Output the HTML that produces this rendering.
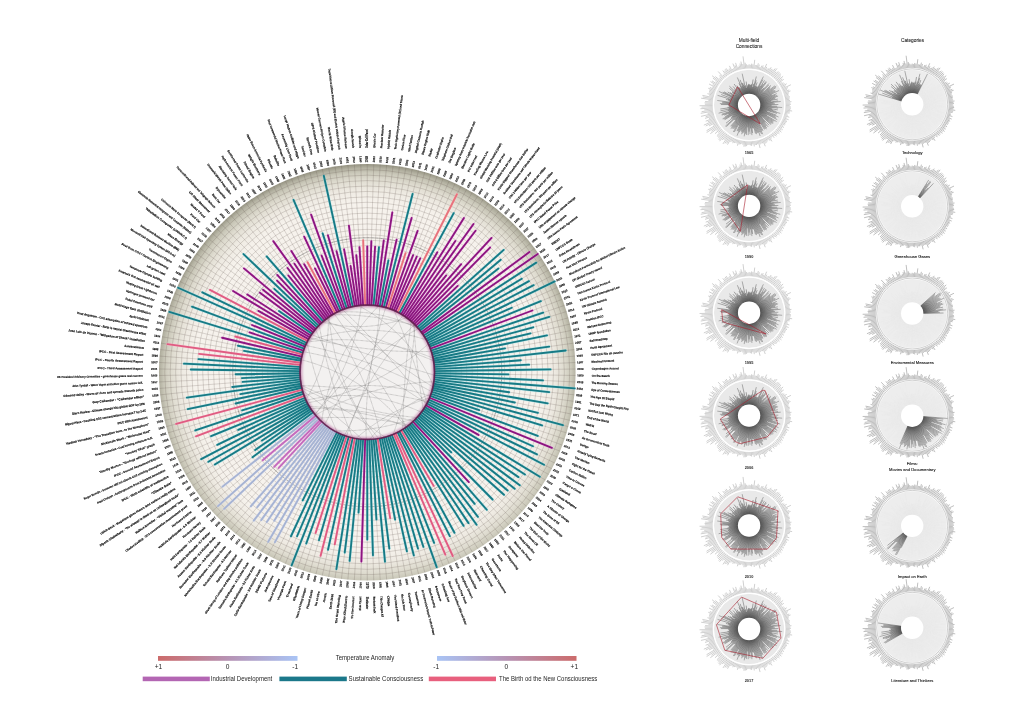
<!DOCTYPE html><html><head><meta charset="utf-8"><title>Chart</title><style>html,body{margin:0;padding:0;background:#fff}svg{display:block}text{font-family:"Liberation Sans",sans-serif}</style></head><body>
<svg width="1024" height="724" viewBox="0 0 1024 724">
<defs>
<radialGradient id="dg" gradientUnits="userSpaceOnUse" cx="367.77" cy="376.23" r="212.5">
<stop offset="0" stop-color="#f8f3ef"/>
<stop offset="0.82" stop-color="#f6f2ec"/>
<stop offset="0.877" stop-color="#eeeae2"/>
<stop offset="0.924" stop-color="#dfdcd0"/>
<stop offset="0.959" stop-color="#cac8b9"/>
<stop offset="0.98" stop-color="#b3b1a1"/>
<stop offset="0.994" stop-color="#9c9a89"/>
<stop offset="1" stop-color="#939180"/>
</radialGradient>
<linearGradient id="lg1" x1="0" x2="1" y1="0" y2="0"><stop offset="0" stop-color="#cc6b6b"/><stop offset="0.5" stop-color="#b793b4"/><stop offset="1" stop-color="#a9c4f5"/></linearGradient>
<linearGradient id="lg2" x1="0" x2="1" y1="0" y2="0"><stop offset="0" stop-color="#a9c4f5"/><stop offset="0.5" stop-color="#b793b4"/><stop offset="1" stop-color="#cc6b6b"/></linearGradient>
<radialGradient id="bg" gradientUnits="userSpaceOnUse" cx="0" cy="0" r="36"><stop offset="0.3" stop-color="#383838"/><stop offset="0.55" stop-color="#5a5a5a"/><stop offset="1" stop-color="#808080"/></radialGradient>
<filter id="bl" x="-20%" y="-20%" width="140%" height="140%"><feGaussianBlur stdDeviation="1.1"/></filter>
<filter id="bl2" x="-20%" y="-20%" width="140%" height="140%"><feGaussianBlur stdDeviation="0.35"/></filter>
<clipPath id="ic"><circle cx="367.27" cy="372.23" r="67"/></clipPath>
</defs>
<rect width="1024" height="724" fill="#fff"/>
<circle cx="367.27" cy="372.23" r="208.3" fill="url(#dg)"/>
<path d="M367.27 305.23L367.27 163.93M369.35 305.26L373.75 164.03M371.44 305.36L380.22 164.33M373.51 305.52L386.68 164.84M375.58 305.75L393.12 165.54M377.65 306.04L399.54 166.44M379.7 306.39L405.92 167.55M381.74 306.81L412.27 168.85M383.77 307.29L418.57 170.35M385.78 307.84L424.82 172.04M387.78 308.45L431.02 173.93M389.75 309.11L437.16 176M391.7 309.84L443.23 178.27M393.63 310.63L449.22 180.73M395.53 311.48L455.14 183.37M397.41 312.39L460.97 186.19M399.25 313.36L466.71 189.2M401.07 314.38L472.35 192.38M402.85 315.46L477.9 195.73M404.6 316.59L483.33 199.26M406.31 317.78L488.65 202.95M407.99 319.02L493.86 206.81M409.62 320.31L498.94 210.83M411.22 321.66L503.9 215M412.77 323.05L508.72 219.33M414.28 324.49L513.41 223.8M415.74 325.97L517.96 228.42M417.15 327.5L522.36 233.17M418.52 329.07L526.61 238.06M419.84 330.69L530.7 243.08M421.1 332.34L534.64 248.23M422.32 334.04L538.41 253.49M423.48 335.77L542.02 258.87M424.59 337.53L545.46 264.36M425.64 339.33L548.73 269.96M426.63 341.16L551.83 275.65M427.57 343.03L554.74 281.44M428.45 344.92L557.47 287.31M429.27 346.83L560.02 293.27M430.03 348.77L562.39 299.3M430.73 350.73L564.56 305.4M431.37 352.72L566.54 311.57M431.94 354.72L568.33 317.8M432.46 356.74L569.93 324.08M432.91 358.78L571.33 330.4M433.29 360.82L572.53 336.77M433.61 362.88L573.53 343.17M433.87 364.95L574.34 349.6M434.07 367.03L574.94 356.05M434.2 369.11L575.34 362.51M434.26 371.19L575.54 368.99M434.26 373.27L575.54 375.47M434.2 375.35L575.34 381.95M434.07 377.43L574.94 388.41M433.87 379.51L574.34 394.86M433.61 381.58L573.53 401.29M433.29 383.64L572.53 407.69M432.91 385.68L571.33 414.06M432.46 387.72L569.93 420.38M431.94 389.74L568.33 426.66M431.37 391.74L566.54 432.89M430.73 393.73L564.56 439.06M430.03 395.69L562.39 445.16M429.27 397.63L560.02 451.19M428.45 399.54L557.47 457.15M427.57 401.43L554.74 463.02M426.63 403.3L551.83 468.81M425.64 405.13L548.73 474.5M424.59 406.93L545.46 480.1M423.48 408.69L542.02 485.59M422.32 410.42L538.41 490.97M421.1 412.12L534.64 496.23M419.84 413.77L530.7 501.38M418.52 415.39L526.61 506.4M417.15 416.96L522.36 511.29M415.74 418.49L517.96 516.04M414.28 419.97L513.41 520.66M412.77 421.41L508.72 525.13M411.22 422.8L503.9 529.46M409.62 424.15L498.94 533.63M407.99 425.44L493.86 537.65M406.31 426.68L488.65 541.51M404.6 427.87L483.33 545.2M402.85 429L477.9 548.73M401.07 430.08L472.35 552.08M399.25 431.1L466.71 555.26M397.41 432.07L460.97 558.27M395.53 432.98L455.14 561.09M393.63 433.83L449.22 563.73M391.7 434.62L443.23 566.19M389.75 435.35L437.16 568.46M387.78 436.01L431.02 570.53M385.78 436.62L424.82 572.42M383.77 437.17L418.57 574.11M381.74 437.65L412.27 575.61M379.7 438.07L405.92 576.91M377.65 438.42L399.54 578.02M375.58 438.71L393.12 578.92M373.51 438.94L386.68 579.62M371.44 439.1L380.22 580.13M369.35 439.2L373.75 580.43M367.27 439.23L367.27 580.53M365.19 439.2L360.79 580.43M363.1 439.1L354.32 580.13M361.03 438.94L347.86 579.62M358.96 438.71L341.42 578.92M356.89 438.42L335 578.02M354.84 438.07L328.62 576.91M352.8 437.65L322.27 575.61M350.77 437.17L315.97 574.11M348.76 436.62L309.72 572.42M346.76 436.01L303.52 570.53M344.79 435.35L297.38 568.46M342.84 434.62L291.31 566.19M340.91 433.83L285.32 563.73M339.01 432.98L279.4 561.09M337.13 432.07L273.57 558.27M335.29 431.1L267.83 555.26M333.47 430.08L262.19 552.08M331.69 429L256.64 548.73M329.94 427.87L251.21 545.2M328.23 426.68L245.89 541.51M326.55 425.44L240.68 537.65M324.92 424.15L235.6 533.63M323.32 422.8L230.64 529.46M321.77 421.41L225.82 525.13M320.26 419.97L221.13 520.66M318.8 418.49L216.58 516.04M317.39 416.96L212.18 511.29M316.02 415.39L207.93 506.4M314.7 413.77L203.84 501.38M313.44 412.12L199.9 496.23M312.22 410.42L196.13 490.97M311.06 408.69L192.52 485.59M309.95 406.93L189.08 480.1M308.9 405.13L185.81 474.5M307.91 403.3L182.71 468.81M306.97 401.43L179.8 463.02M306.09 399.54L177.07 457.15M305.27 397.63L174.52 451.19M304.51 395.69L172.15 445.16M303.81 393.73L169.98 439.06M303.17 391.74L168 432.89M302.6 389.74L166.21 426.66M302.08 387.72L164.61 420.38M301.63 385.68L163.21 414.06M301.25 383.64L162.01 407.69M300.93 381.58L161.01 401.29M300.67 379.51L160.2 394.86M300.47 377.43L159.6 388.41M300.34 375.35L159.2 381.95M300.28 373.27L159 375.47M300.28 371.19L159 368.99M300.34 369.11L159.2 362.51M300.47 367.03L159.6 356.05M300.67 364.95L160.2 349.6M300.93 362.88L161.01 343.17M301.25 360.82L162.01 336.77M301.63 358.78L163.21 330.4M302.08 356.74L164.61 324.08M302.6 354.72L166.21 317.8M303.17 352.72L168 311.57M303.81 350.73L169.98 305.4M304.51 348.77L172.15 299.3M305.27 346.83L174.52 293.27M306.09 344.92L177.07 287.31M306.97 343.03L179.8 281.44M307.91 341.16L182.71 275.65M308.9 339.33L185.81 269.96M309.95 337.53L189.08 264.36M311.06 335.77L192.52 258.87M312.22 334.04L196.13 253.49M313.44 332.34L199.9 248.23M314.7 330.69L203.84 243.08M316.02 329.07L207.93 238.06M317.39 327.5L212.18 233.17M318.8 325.97L216.58 228.42M320.26 324.49L221.13 223.8M321.77 323.05L225.82 219.33M323.32 321.66L230.64 215M324.92 320.31L235.6 210.83M326.55 319.02L240.68 206.81M328.23 317.78L245.89 202.95M329.94 316.59L251.21 199.26M331.69 315.46L256.64 195.73M333.47 314.38L262.19 192.38M335.29 313.36L267.83 189.2M337.13 312.39L273.57 186.19M339.01 311.48L279.4 183.37M340.91 310.63L285.32 180.73M342.84 309.84L291.31 178.27M344.79 309.11L297.38 176M346.76 308.45L303.52 173.93M348.76 307.84L309.72 172.04M350.77 307.29L315.97 170.35M352.8 306.81L322.27 168.85M354.84 306.39L328.62 167.55M356.89 306.04L335 166.44M358.96 305.75L341.42 165.54M361.03 305.52L347.86 164.84M363.1 305.36L354.32 164.33M365.19 305.26L360.79 164.03" stroke="#6a5d55" stroke-width="0.4" fill="none" opacity="0.56"/>
<g stroke="#6a5d55" stroke-width="0.4" fill="none" opacity="0.56"><circle cx="367.27" cy="372.23" r="72.42"/><circle cx="367.27" cy="372.23" r="77.84"/><circle cx="367.27" cy="372.23" r="83.26"/><circle cx="367.27" cy="372.23" r="88.68"/><circle cx="367.27" cy="372.23" r="94.1"/><circle cx="367.27" cy="372.23" r="99.52"/><circle cx="367.27" cy="372.23" r="104.94"/><circle cx="367.27" cy="372.23" r="110.36"/><circle cx="367.27" cy="372.23" r="115.78"/><circle cx="367.27" cy="372.23" r="121.2"/><circle cx="367.27" cy="372.23" r="126.62"/><circle cx="367.27" cy="372.23" r="132.04"/><circle cx="367.27" cy="372.23" r="137.46"/><circle cx="367.27" cy="372.23" r="142.88"/><circle cx="367.27" cy="372.23" r="148.3"/><circle cx="367.27" cy="372.23" r="153.72"/><circle cx="367.27" cy="372.23" r="159.14"/><circle cx="367.27" cy="372.23" r="164.56"/><circle cx="367.27" cy="372.23" r="169.98"/><circle cx="367.27" cy="372.23" r="175.4"/><circle cx="367.27" cy="372.23" r="180.82"/><circle cx="367.27" cy="372.23" r="186.24"/><circle cx="367.27" cy="372.23" r="191.66"/><circle cx="367.27" cy="372.23" r="197.08"/><circle cx="367.27" cy="372.23" r="202.5"/></g>
<circle cx="367.27" cy="372.23" r="134.5" stroke="#222" stroke-width="0.5" stroke-dasharray="0.9 0.4" fill="none"/>
<path d="M367.27 306.23L367.27 246.33M369.32 306.26L371.34 241.29M371.37 306.36L375.1 246.57M375.46 306.74L383.76 240.36M377.49 307.03L392.33 212.38M381.53 307.79L396.61 239.64M385.51 308.8L411.62 217.98M389.41 310.06L417.6 230.92M391.34 310.77L413.11 255.19M393.24 311.55L416.72 256.67M395.11 312.39L420.21 258.44M400.57 315.24L437.34 252.3M402.32 316.31L463.93 218.02M404.04 317.42L455.36 240.95M405.73 318.59L473.5 224.08M407.38 319.82L475.57 230.71M408.99 321.09L446.22 275.45M410.56 322.41L461.2 264.14M412.09 323.78L491.54 237.9M413.57 325.2L490.05 247.53M415.01 326.66L457.7 285.93M420.3 332.94L529.42 252.1M421.5 334.61L537.76 253.95M429.09 349.12L532.41 310.5M428.34 397.25L551.88 447.86M424.77 404.64L478.52 434.93M412.09 420.68L468.86 482.05M365.22 438.2L361.38 561.54M303.06 356.97L222.11 337.74M304.76 351.06L249.54 332.35M306.2 347.21L251.97 325M309.77 339.82L258.37 310.86M310.81 338.05L233.05 290.98M311.9 336.31L247.3 294.41M314.24 332.94L259.92 292.7M315.49 331.31L263 289.83M316.78 329.72L243.96 268.4M320.97 325.2L277.05 280.59M322.45 323.78L277.22 274.89M325.55 321.09L288.38 275.53M327.16 319.82L287.54 268.04M328.81 318.59L273.27 241.15M330.5 317.42L294.45 263.7M332.22 316.31L291.32 251.06M333.97 315.24L304.21 264.3M337.58 313.28L315 268.45M339.43 312.39L304.21 236.68M343.2 310.77L321.62 255.65M345.13 310.06L311.14 214.63M349.03 308.8L327.9 235.28M351.02 308.26L336.53 251.27M355.02 307.38L344.06 249.3M357.05 307.03L350.62 266.03M359.08 306.74L348.95 225.77M361.12 306.52L356.31 255.14M363.17 306.36L359.47 247.07" stroke="#f3a6ea" stroke-width="2.7" stroke-linecap="round" fill="none" opacity="0.55"/>
<path d="M373.42 306.52L378.96 247.28M379.52 307.38L388.39 260.41M383.52 308.26L412.59 193.9M398.78 314.24L453.72 213.1M416.41 328.17L503.67 249.93M417.76 329.72L500.75 259.83M419.05 331.31L498.45 268.56M422.64 336.31L536.24 262.63M423.73 338.05L521.77 278.71M424.77 339.82L528.96 281.1M425.75 341.63L533.66 285.15M426.67 343.46L554.74 281.44M427.54 345.32L511.73 307.73M428.34 347.21L540.87 301.11M429.78 351.06L543.15 312.65M430.41 353.01L549.23 316.84M430.98 354.98L533.2 327.31M431.48 356.97L530.52 333.44M431.93 358.98L547.03 335.38M432.31 360.99L505.03 348.43M432.62 363.02L549.17 346.6M432.88 365.06L565.69 350.54M433.07 367.1L520.8 360.27M433.2 369.15L529.09 364.67M433.26 371.2L550.55 369.38M433.26 373.26L508.45 374.43M433.2 375.31L542.98 380.43M433.07 377.36L574.74 388.4M432.88 379.4L549.19 392.11M432.62 381.44L509.17 392.22M432.31 383.47L547.7 403.4M431.93 385.48L514.8 402.47M431.48 387.49L537.92 412.78M430.98 389.48L562.93 425.2M430.41 391.45L542.05 425.43M429.78 393.4L479.13 410.12M429.09 395.34L537.75 435.95M427.54 399.14L533 446.22M426.67 401L537.01 454.44M425.75 402.83L544.03 464.73M423.73 406.41L539.82 476.68M422.64 408.15L524.99 474.54M421.5 409.85L518.45 477.12M420.3 411.52L519.77 485.22M419.05 413.15L514.7 488.73M417.76 414.74L507.64 490.42M416.41 416.29L503.97 494.8M415.01 417.8L451.26 452.39M413.57 419.26L492.57 499.5M410.56 422.05L486.78 509.76M408.99 423.37L474.67 503.88M407.38 424.64L477.94 516.84M405.73 425.87L476.59 524.68M404.04 427.04L468.51 523.11M402.32 428.15L463.56 525.85M398.78 430.22L454.49 532.77M396.96 431.18L449.81 536.12M391.34 433.69L434.11 542.91M389.41 434.4L436.69 567.14M387.47 435.06L423.43 546.92M385.51 435.66L417.97 548.59M383.52 436.2L413.82 555.41M381.53 436.67L406.89 551.3M379.52 437.08L395.08 519.53M375.46 437.72L389.32 548.56M373.42 437.94L384.99 561.6M371.37 438.1L376.44 519.44M369.32 438.2L372.97 555.34M367.27 438.23L367.27 539.53M363.17 438.1L358.53 512.56M361.12 437.94L349.62 560.81M359.08 437.72L344.72 552.53M357.05 437.43L336.4 569.12M353.01 436.67L328 549.74M349.03 435.66L318.97 540.23M345.13 434.4L306.27 543.49M343.2 433.69L291.64 565.35M341.3 432.91L297.08 536.24M339.43 432.07L290.96 536.25M337.58 431.18L302.72 500.39M314.24 411.52L252.53 457.24M313.04 409.85L255.12 450.04M311.9 408.15L261.98 440.53M310.81 406.41L214.82 464.51M309.77 404.64L208.37 461.79M308.79 402.83L201.14 459.17M307.87 401L217.24 444.89M307 399.14L238.25 429.84M306.2 397.25L211.07 436.22M304.76 393.4L195.27 430.49M304.13 391.45L242.14 410.32M303.06 387.49L235.64 403.51M302.61 385.48L187.7 409.04M302.23 383.47L240.35 394.16M301.92 381.44L186.85 397.65M301.66 379.4L232.27 386.98M301.47 377.36L242.65 381.94M301.34 375.31L241.91 378.08M301.28 373.26L235.69 374.28M301.28 371.2L190.79 369.49M301.34 369.15L183.97 363.67M301.47 367.1L198.48 359.08M302.23 360.99L244 350.93M302.61 358.98L237.96 345.72M304.13 353.01L169.34 311.98M305.45 349.12L192.01 306.72M307 345.32L178.07 287.76M307.87 343.46L202.3 292.33M313.04 334.61L278.95 310.95M318.13 328.17L274.28 288.85M319.53 326.66L243.49 254.1M323.98 322.41L266.65 256.44M341.3 311.55L293.54 199.94M347.07 309.4L322.62 233.33M353.01 307.79L323.81 175.78" stroke="#8fdde6" stroke-width="2.7" stroke-linecap="round" fill="none" opacity="0.55"/>
<path d="M387.47 309.4L405.56 253.13M396.96 313.28L456.92 194.23M335.76 314.24L307.55 262.31M365.22 306.26L363.16 240.29" stroke="#ffcaca" stroke-width="2.7" stroke-linecap="round" fill="none" opacity="0.55"/>
<path d="M400.57 429.22L433.66 485.86M395.11 432.07L452.78 556.01M393.24 432.91L445.33 554.63M377.49 437.43L390.15 518.15M355.02 437.08L334.78 544.29M351.02 436.2L320.62 555.8M347.07 435.06L315.61 532.93M305.45 395.34L195.95 436.27M303.56 389.48L176.15 423.97M301.66 365.06L199.07 353.85M301.92 363.02L167.44 344.08M303.56 354.98L235.32 336.51M308.79 341.63L209.91 289.88" stroke="#ffc3d3" stroke-width="2.7" stroke-linecap="round" fill="none" opacity="0.55"/>
<path d="M335.76 430.22L274.94 542.17M333.97 429.22L268.19 541.81M332.22 428.15L274.22 520.68M330.5 427.04L266.81 521.95M328.81 425.87L261.21 520.13M327.16 424.64L253.75 520.58M325.55 423.37L257.15 507.21M323.98 422.05L250.78 506.29M319.53 417.8L224.11 508.86M318.13 416.29L217.99 506.08M315.49 413.15L222.51 486.62" stroke="#d8dff2" stroke-width="2.7" stroke-linecap="round" fill="none" opacity="0.55"/>
<path d="M322.45 420.68L278.72 467.95M320.97 419.26L274.17 466.79M316.78 414.74L262.7 460.28" stroke="#f0c4ec" stroke-width="2.7" stroke-linecap="round" fill="none" opacity="0.55"/>
<path d="M367.27 306.23L367.27 246.33M369.32 306.26L371.34 241.29M371.37 306.36L375.1 246.57M375.46 306.74L383.76 240.36M377.49 307.03L392.33 212.38M381.53 307.79L396.61 239.64M385.51 308.8L411.62 217.98M389.41 310.06L417.6 230.92M391.34 310.77L413.11 255.19M393.24 311.55L416.72 256.67M395.11 312.39L420.21 258.44M400.57 315.24L437.34 252.3M402.32 316.31L463.93 218.02M404.04 317.42L455.36 240.95M405.73 318.59L473.5 224.08M407.38 319.82L475.57 230.71M408.99 321.09L446.22 275.45M410.56 322.41L461.2 264.14M412.09 323.78L491.54 237.9M413.57 325.2L490.05 247.53M415.01 326.66L457.7 285.93M420.3 332.94L529.42 252.1M421.5 334.61L537.76 253.95M429.09 349.12L532.41 310.5M428.34 397.25L551.88 447.86M424.77 404.64L478.52 434.93M412.09 420.68L468.86 482.05M365.22 438.2L361.38 561.54M303.06 356.97L222.11 337.74M304.76 351.06L249.54 332.35M306.2 347.21L251.97 325M309.77 339.82L258.37 310.86M310.81 338.05L233.05 290.98M311.9 336.31L247.3 294.41M314.24 332.94L259.92 292.7M315.49 331.31L263 289.83M316.78 329.72L243.96 268.4M320.97 325.2L277.05 280.59M322.45 323.78L277.22 274.89M325.55 321.09L288.38 275.53M327.16 319.82L287.54 268.04M328.81 318.59L273.27 241.15M330.5 317.42L294.45 263.7M332.22 316.31L291.32 251.06M333.97 315.24L304.21 264.3M337.58 313.28L315 268.45M339.43 312.39L304.21 236.68M343.2 310.77L321.62 255.65M345.13 310.06L311.14 214.63M349.03 308.8L327.9 235.28M351.02 308.26L336.53 251.27M355.02 307.38L344.06 249.3M357.05 307.03L350.62 266.03M359.08 306.74L348.95 225.77M361.12 306.52L356.31 255.14M363.17 306.36L359.47 247.07" stroke="#8c1680" stroke-width="1.85" stroke-linecap="round" fill="none"/>
<path d="M373.42 306.52L378.96 247.28M379.52 307.38L388.39 260.41M383.52 308.26L412.59 193.9M398.78 314.24L453.72 213.1M416.41 328.17L503.67 249.93M417.76 329.72L500.75 259.83M419.05 331.31L498.45 268.56M422.64 336.31L536.24 262.63M423.73 338.05L521.77 278.71M424.77 339.82L528.96 281.1M425.75 341.63L533.66 285.15M426.67 343.46L554.74 281.44M427.54 345.32L511.73 307.73M428.34 347.21L540.87 301.11M429.78 351.06L543.15 312.65M430.41 353.01L549.23 316.84M430.98 354.98L533.2 327.31M431.48 356.97L530.52 333.44M431.93 358.98L547.03 335.38M432.31 360.99L505.03 348.43M432.62 363.02L549.17 346.6M432.88 365.06L565.69 350.54M433.07 367.1L520.8 360.27M433.2 369.15L529.09 364.67M433.26 371.2L550.55 369.38M433.26 373.26L508.45 374.43M433.2 375.31L542.98 380.43M433.07 377.36L574.74 388.4M432.88 379.4L549.19 392.11M432.62 381.44L509.17 392.22M432.31 383.47L547.7 403.4M431.93 385.48L514.8 402.47M431.48 387.49L537.92 412.78M430.98 389.48L562.93 425.2M430.41 391.45L542.05 425.43M429.78 393.4L479.13 410.12M429.09 395.34L537.75 435.95M427.54 399.14L533 446.22M426.67 401L537.01 454.44M425.75 402.83L544.03 464.73M423.73 406.41L539.82 476.68M422.64 408.15L524.99 474.54M421.5 409.85L518.45 477.12M420.3 411.52L519.77 485.22M419.05 413.15L514.7 488.73M417.76 414.74L507.64 490.42M416.41 416.29L503.97 494.8M415.01 417.8L451.26 452.39M413.57 419.26L492.57 499.5M410.56 422.05L486.78 509.76M408.99 423.37L474.67 503.88M407.38 424.64L477.94 516.84M405.73 425.87L476.59 524.68M404.04 427.04L468.51 523.11M402.32 428.15L463.56 525.85M398.78 430.22L454.49 532.77M396.96 431.18L449.81 536.12M391.34 433.69L434.11 542.91M389.41 434.4L436.69 567.14M387.47 435.06L423.43 546.92M385.51 435.66L417.97 548.59M383.52 436.2L413.82 555.41M381.53 436.67L406.89 551.3M379.52 437.08L395.08 519.53M375.46 437.72L389.32 548.56M373.42 437.94L384.99 561.6M371.37 438.1L376.44 519.44M369.32 438.2L372.97 555.34M367.27 438.23L367.27 539.53M363.17 438.1L358.53 512.56M361.12 437.94L349.62 560.81M359.08 437.72L344.72 552.53M357.05 437.43L336.4 569.12M353.01 436.67L328 549.74M349.03 435.66L318.97 540.23M345.13 434.4L306.27 543.49M343.2 433.69L291.64 565.35M341.3 432.91L297.08 536.24M339.43 432.07L290.96 536.25M337.58 431.18L302.72 500.39M314.24 411.52L252.53 457.24M313.04 409.85L255.12 450.04M311.9 408.15L261.98 440.53M310.81 406.41L214.82 464.51M309.77 404.64L208.37 461.79M308.79 402.83L201.14 459.17M307.87 401L217.24 444.89M307 399.14L238.25 429.84M306.2 397.25L211.07 436.22M304.76 393.4L195.27 430.49M304.13 391.45L242.14 410.32M303.06 387.49L235.64 403.51M302.61 385.48L187.7 409.04M302.23 383.47L240.35 394.16M301.92 381.44L186.85 397.65M301.66 379.4L232.27 386.98M301.47 377.36L242.65 381.94M301.34 375.31L241.91 378.08M301.28 373.26L235.69 374.28M301.28 371.2L190.79 369.49M301.34 369.15L183.97 363.67M301.47 367.1L198.48 359.08M302.23 360.99L244 350.93M302.61 358.98L237.96 345.72M304.13 353.01L169.34 311.98M305.45 349.12L192.01 306.72M307 345.32L178.07 287.76M307.87 343.46L202.3 292.33M313.04 334.61L278.95 310.95M318.13 328.17L274.28 288.85M319.53 326.66L243.49 254.1M323.98 322.41L266.65 256.44M341.3 311.55L293.54 199.94M347.07 309.4L322.62 233.33M353.01 307.79L323.81 175.78" stroke="#177a85" stroke-width="1.85" stroke-linecap="round" fill="none"/>
<path d="M387.47 309.4L405.56 253.13M396.96 313.28L456.92 194.23M335.76 314.24L307.55 262.31M365.22 306.26L363.16 240.29" stroke="#e8727c" stroke-width="1.85" stroke-linecap="round" fill="none"/>
<path d="M400.57 429.22L433.66 485.86M395.11 432.07L452.78 556.01M393.24 432.91L445.33 554.63M377.49 437.43L390.15 518.15M355.02 437.08L334.78 544.29M351.02 436.2L320.62 555.8M347.07 435.06L315.61 532.93M305.45 395.34L195.95 436.27M303.56 389.48L176.15 423.97M301.66 365.06L199.07 353.85M301.92 363.02L167.44 344.08M303.56 354.98L235.32 336.51M308.79 341.63L209.91 289.88" stroke="#e05c82" stroke-width="1.85" stroke-linecap="round" fill="none"/>
<path d="M335.76 430.22L274.94 542.17M333.97 429.22L268.19 541.81M332.22 428.15L274.22 520.68M330.5 427.04L266.81 521.95M328.81 425.87L261.21 520.13M327.16 424.64L253.75 520.58M325.55 423.37L257.15 507.21M323.98 422.05L250.78 506.29M319.53 417.8L224.11 508.86M318.13 416.29L217.99 506.08M315.49 413.15L222.51 486.62" stroke="#a6b3d3" stroke-width="1.85" stroke-linecap="round" fill="none"/>
<path d="M322.45 420.68L278.72 467.95M320.97 419.26L274.17 466.79M316.78 414.74L262.7 460.28" stroke="#c46bbd" stroke-width="1.85" stroke-linecap="round" fill="none"/>
<circle cx="367.27" cy="372.23" r="68" fill="#7d2a5e" opacity="0.55" filter="url(#bl2)"/>
<circle cx="367.27" cy="372.23" r="66.7" fill="#f3f1f0"/>
<g clip-path="url(#ic)">
<circle cx="367.27" cy="372.23" r="67" fill="none" stroke="#b05a95" stroke-width="4" opacity="0.55" filter="url(#bl)"/>
<path d="M337.29 432.15Q317.33 389.1 307.09 342.78M427.45 401.68Q365.31 387.54 301.61 385.56M429.87 396.11Q367.26 375.08 304.55 395.79M306.01 399.36Q329.21 361.82 328.34 317.7M307.66 402.83Q375.84 389.84 428.13 344.21M378.48 438.29Q334.32 385.62 329.22 317.08M307.98 341.03Q366.73 320.2 425.9 339.81M431.42 391.56Q372.13 358.99 305.86 345.44M408.58 424.98Q363.95 415.28 318.36 418.02M394.31 310.93Q413.24 356.05 426.75 403.08M324.21 320.9Q379.41 338.86 433.25 360.56M429.12 397.98Q388.37 410.42 356.15 438.3M338.9 311.54Q380.76 355.41 432.68 386.73M309.72 337.92Q369.36 353.39 430.95 351.39M385.71 307.82Q363.89 371.73 366.28 439.22M307.46 342.03Q372.27 333.11 432.75 358.03M358.64 305.79Q409.53 332.51 433.05 384.96M416.66 417.5Q356.13 412.05 301.56 385.3M405.97 426.92Q364.84 376.01 301.44 359.78M334.34 313.88Q373.25 368.42 406.23 426.74M414.79 325Q411.74 380.97 393.37 433.94M311.71 334.79Q372.32 356.88 434.21 375.12M403.16 315.65Q358.24 364.18 315.17 414.35M332.86 314.74Q375.05 314.29 415.62 325.85M326.92 318.75Q367.7 372.04 380.88 437.83M352.82 437.65Q329.24 383.6 319.29 325.47M433.6 381.7Q370.66 384.24 315.67 414.97M416.94 417.2Q377.17 431.94 334.77 430.82M413.34 420.88Q362.05 409.55 309.62 406.37M413.57 323.8Q416.78 366.7 423.11 409.26M303.48 351.75Q370.92 363.6 426.41 403.71M411.26 321.69Q403.7 375.13 402.7 429.1M324.96 424.18Q355.86 361.08 418.22 328.72M406.34 426.66Q360.37 408.32 310.88 408.41M374.27 438.86Q341.4 386.15 315.53 329.66M361.91 439.02Q333.81 413.19 302.9 390.8M321.63 421.29Q331.24 354.46 378.4 306.16M342.8 309.86Q388.53 353.35 426.31 403.91M337.3 312.3Q380.18 308.91 418.3 328.82M379.81 306.41Q376.01 374.62 344.58 435.27M315.01 414.16Q353.66 366.43 361.28 305.5M322.74 322.17Q365.22 333 406.33 317.79M384.44 436.99Q346.13 407.85 302.2 388.18M430.65 393.96Q394.62 408.95 369.94 439.18M421.11 412.11Q365.79 386.58 306.41 400.25M414.45 324.66Q366.45 371.73 346.62 435.97" stroke="#4a4a4a" stroke-width="0.42" stroke-dasharray="0.7 0.55" fill="none" opacity="0.8"/>
</g>
<circle cx="367.27" cy="372.23" r="67.2" fill="none" stroke="#5e1d4c" stroke-width="1.7" opacity="0.8" filter="url(#bl2)"/>
<g font-size="2.85" font-weight="700" fill="#111" stroke="#111" stroke-width="0.14" opacity="0.99"><text transform="translate(367.27 162.23) rotate(-90)" y="1.03" textLength="6.3" lengthAdjust="spacingAndGlyphs">1988</text><text transform="translate(373.8 162.33) rotate(-88.22)" y="1.03" textLength="6.3" lengthAdjust="spacingAndGlyphs">2011</text><text transform="translate(380.33 162.64) rotate(-86.44)" y="1.03" textLength="6.3" lengthAdjust="spacingAndGlyphs">2010</text><text transform="translate(386.84 163.14) rotate(-84.65)" y="1.03" textLength="6.3" lengthAdjust="spacingAndGlyphs">1965</text><text transform="translate(393.33 163.85) rotate(-82.87)" y="1.03" textLength="6.3" lengthAdjust="spacingAndGlyphs">2001</text><text transform="translate(399.8 164.76) rotate(-81.09)" y="1.03" textLength="6.3" lengthAdjust="spacingAndGlyphs">2012</text><text transform="translate(406.24 165.88) rotate(-79.31)" y="1.03" textLength="6.3" lengthAdjust="spacingAndGlyphs">2008</text><text transform="translate(412.63 167.19) rotate(-77.52)" y="1.03" textLength="6.3" lengthAdjust="spacingAndGlyphs">2013</text><text transform="translate(418.99 168.7) rotate(-75.74)" y="1.03" textLength="6.3" lengthAdjust="spacingAndGlyphs">2011</text><text transform="translate(425.29 170.41) rotate(-73.96)" y="1.03" textLength="6.3" lengthAdjust="spacingAndGlyphs">1938</text><text transform="translate(431.54 172.31) rotate(-72.18)" y="1.03" textLength="6.3" lengthAdjust="spacingAndGlyphs">2012</text><text transform="translate(437.73 174.4) rotate(-70.4)" y="1.03" textLength="6.3" lengthAdjust="spacingAndGlyphs">1859</text><text transform="translate(443.85 176.69) rotate(-68.61)" y="1.03" textLength="6.3" lengthAdjust="spacingAndGlyphs">2008</text><text transform="translate(449.89 179.17) rotate(-66.83)" y="1.03" textLength="6.3" lengthAdjust="spacingAndGlyphs">1990</text><text transform="translate(455.86 181.83) rotate(-65.05)" y="1.03" textLength="6.3" lengthAdjust="spacingAndGlyphs">2010</text><text transform="translate(461.73 184.68) rotate(-63.27)" y="1.03" textLength="6.3" lengthAdjust="spacingAndGlyphs">1988</text><text transform="translate(467.52 187.7) rotate(-61.49)" y="1.03" textLength="6.3" lengthAdjust="spacingAndGlyphs">1979</text><text transform="translate(473.21 190.91) rotate(-59.7)" y="1.03" textLength="6.3" lengthAdjust="spacingAndGlyphs">2015</text><text transform="translate(478.8 194.29) rotate(-57.92)" y="1.03" textLength="6.3" lengthAdjust="spacingAndGlyphs">2008</text><text transform="translate(484.28 197.85) rotate(-56.14)" y="1.03" textLength="6.3" lengthAdjust="spacingAndGlyphs">2010</text><text transform="translate(489.65 201.57) rotate(-54.36)" y="1.03" textLength="6.3" lengthAdjust="spacingAndGlyphs">2010</text><text transform="translate(494.89 205.46) rotate(-52.57)" y="1.03" textLength="6.3" lengthAdjust="spacingAndGlyphs">2008</text><text transform="translate(500.02 209.51) rotate(-50.79)" y="1.03" textLength="6.3" lengthAdjust="spacingAndGlyphs">2004</text><text transform="translate(505.02 213.72) rotate(-49.01)" y="1.03" textLength="6.3" lengthAdjust="spacingAndGlyphs">2013</text><text transform="translate(509.88 218.08) rotate(-47.23)" y="1.03" textLength="6.3" lengthAdjust="spacingAndGlyphs">1965</text><text transform="translate(514.6 222.59) rotate(-45.45)" y="1.03" textLength="6.3" lengthAdjust="spacingAndGlyphs">1988</text><text transform="translate(519.19 227.24) rotate(-43.66)" y="1.03" textLength="6.3" lengthAdjust="spacingAndGlyphs">2007</text><text transform="translate(523.62 232.04) rotate(-41.88)" y="1.03" textLength="6.3" lengthAdjust="spacingAndGlyphs">2007</text><text transform="translate(527.91 236.97) rotate(-40.1)" y="1.03" textLength="6.3" lengthAdjust="spacingAndGlyphs">2008</text><text transform="translate(532.03 242.03) rotate(-38.32)" y="1.03" textLength="6.3" lengthAdjust="spacingAndGlyphs">1988</text><text transform="translate(536 247.22) rotate(-36.53)" y="1.03" textLength="6.3" lengthAdjust="spacingAndGlyphs">2017</text><text transform="translate(539.81 252.52) rotate(-34.75)" y="1.03" textLength="6.3" lengthAdjust="spacingAndGlyphs">2016</text><text transform="translate(543.45 257.95) rotate(-32.97)" y="1.03" textLength="6.3" lengthAdjust="spacingAndGlyphs">2017</text><text transform="translate(546.92 263.48) rotate(-31.19)" y="1.03" textLength="6.3" lengthAdjust="spacingAndGlyphs">2012</text><text transform="translate(550.21 269.12) rotate(-29.41)" y="1.03" textLength="6.3" lengthAdjust="spacingAndGlyphs">2015</text><text transform="translate(553.33 274.86) rotate(-27.62)" y="1.03" textLength="6.3" lengthAdjust="spacingAndGlyphs">2009</text><text transform="translate(556.27 280.69) rotate(-25.84)" y="1.03" textLength="6.3" lengthAdjust="spacingAndGlyphs">2016</text><text transform="translate(559.03 286.62) rotate(-24.06)" y="1.03" textLength="6.3" lengthAdjust="spacingAndGlyphs">1988</text><text transform="translate(561.6 292.62) rotate(-22.28)" y="1.03" textLength="6.3" lengthAdjust="spacingAndGlyphs">2010</text><text transform="translate(563.98 298.7) rotate(-20.5)" y="1.03" textLength="6.3" lengthAdjust="spacingAndGlyphs">2001</text><text transform="translate(566.17 304.86) rotate(-18.71)" y="1.03" textLength="6.3" lengthAdjust="spacingAndGlyphs">2005</text><text transform="translate(568.17 311.07) rotate(-16.93)" y="1.03" textLength="6.3" lengthAdjust="spacingAndGlyphs">2014</text><text transform="translate(569.97 317.35) rotate(-15.15)" y="1.03" textLength="6.3" lengthAdjust="spacingAndGlyphs">1997</text><text transform="translate(571.58 323.68) rotate(-13.37)" y="1.03" textLength="6.3" lengthAdjust="spacingAndGlyphs">1988</text><text transform="translate(572.99 330.06) rotate(-11.58)" y="1.03" textLength="6.3" lengthAdjust="spacingAndGlyphs">2013</text><text transform="translate(574.2 336.48) rotate(-9.8)" y="1.03" textLength="6.3" lengthAdjust="spacingAndGlyphs">1972</text><text transform="translate(575.22 342.93) rotate(-8.02)" y="1.03" textLength="6.3" lengthAdjust="spacingAndGlyphs">2007</text><text transform="translate(576.03 349.41) rotate(-6.24)" y="1.03" textLength="6.3" lengthAdjust="spacingAndGlyphs">2015</text><text transform="translate(576.64 355.92) rotate(-4.46)" y="1.03" textLength="6.3" lengthAdjust="spacingAndGlyphs">1988</text><text transform="translate(577.04 362.44) rotate(-2.67)" y="1.03" textLength="6.3" lengthAdjust="spacingAndGlyphs">1987</text><text transform="translate(577.24 368.96) rotate(-0.89)" y="1.03" textLength="6.3" lengthAdjust="spacingAndGlyphs">2009</text><text transform="translate(577.24 375.5) rotate(0.89)" y="1.03" textLength="6.3" lengthAdjust="spacingAndGlyphs">1959</text><text transform="translate(577.04 382.02) rotate(2.67)" y="1.03" textLength="6.3" lengthAdjust="spacingAndGlyphs">2008</text><text transform="translate(576.64 388.54) rotate(4.46)" y="1.03" textLength="6.3" lengthAdjust="spacingAndGlyphs">2016</text><text transform="translate(576.03 395.05) rotate(6.24)" y="1.03" textLength="6.3" lengthAdjust="spacingAndGlyphs">2009</text><text transform="translate(575.22 401.53) rotate(8.02)" y="1.03" textLength="6.3" lengthAdjust="spacingAndGlyphs">1961</text><text transform="translate(574.2 407.98) rotate(9.8)" y="1.03" textLength="6.3" lengthAdjust="spacingAndGlyphs">2009</text><text transform="translate(572.99 414.4) rotate(11.58)" y="1.03" textLength="6.3" lengthAdjust="spacingAndGlyphs">1971</text><text transform="translate(571.58 420.78) rotate(13.37)" y="1.03" textLength="6.3" lengthAdjust="spacingAndGlyphs">2008</text><text transform="translate(569.97 427.11) rotate(15.15)" y="1.03" textLength="6.3" lengthAdjust="spacingAndGlyphs">2009</text><text transform="translate(568.17 433.39) rotate(16.93)" y="1.03" textLength="6.3" lengthAdjust="spacingAndGlyphs">2006</text><text transform="translate(566.17 439.6) rotate(18.71)" y="1.03" textLength="6.3" lengthAdjust="spacingAndGlyphs">1970</text><text transform="translate(563.98 445.76) rotate(20.5)" y="1.03" textLength="6.3" lengthAdjust="spacingAndGlyphs">2013</text><text transform="translate(561.6 451.84) rotate(22.28)" y="1.03" textLength="6.3" lengthAdjust="spacingAndGlyphs">2015</text><text transform="translate(559.03 457.84) rotate(24.06)" y="1.03" textLength="6.3" lengthAdjust="spacingAndGlyphs">2008</text><text transform="translate(556.27 463.77) rotate(25.84)" y="1.03" textLength="6.3" lengthAdjust="spacingAndGlyphs">2010</text><text transform="translate(553.33 469.6) rotate(27.62)" y="1.03" textLength="6.3" lengthAdjust="spacingAndGlyphs">2015</text><text transform="translate(550.21 475.34) rotate(29.41)" y="1.03" textLength="6.3" lengthAdjust="spacingAndGlyphs">2006</text><text transform="translate(546.92 480.98) rotate(31.19)" y="1.03" textLength="6.3" lengthAdjust="spacingAndGlyphs">2013</text><text transform="translate(543.45 486.51) rotate(32.97)" y="1.03" textLength="6.3" lengthAdjust="spacingAndGlyphs">1965</text><text transform="translate(539.81 491.94) rotate(34.75)" y="1.03" textLength="6.3" lengthAdjust="spacingAndGlyphs">2009</text><text transform="translate(536 497.24) rotate(36.53)" y="1.03" textLength="6.3" lengthAdjust="spacingAndGlyphs">2004</text><text transform="translate(532.03 502.43) rotate(38.32)" y="1.03" textLength="6.3" lengthAdjust="spacingAndGlyphs">2016</text><text transform="translate(527.91 507.49) rotate(40.1)" y="1.03" textLength="6.3" lengthAdjust="spacingAndGlyphs">1859</text><text transform="translate(523.62 512.42) rotate(41.88)" y="1.03" textLength="6.3" lengthAdjust="spacingAndGlyphs">2014</text><text transform="translate(519.19 517.22) rotate(43.66)" y="1.03" textLength="6.3" lengthAdjust="spacingAndGlyphs">2017</text><text transform="translate(514.6 521.87) rotate(45.45)" y="1.03" textLength="6.3" lengthAdjust="spacingAndGlyphs">1938</text><text transform="translate(509.88 526.38) rotate(47.23)" y="1.03" textLength="6.3" lengthAdjust="spacingAndGlyphs">1972</text><text transform="translate(505.02 530.74) rotate(49.01)" y="1.03" textLength="6.3" lengthAdjust="spacingAndGlyphs">2017</text><text transform="translate(500.02 534.95) rotate(50.79)" y="1.03" textLength="6.3" lengthAdjust="spacingAndGlyphs">2011</text><text transform="translate(494.89 539) rotate(52.57)" y="1.03" textLength="6.3" lengthAdjust="spacingAndGlyphs">1896</text><text transform="translate(489.65 542.89) rotate(54.36)" y="1.03" textLength="6.3" lengthAdjust="spacingAndGlyphs">1992</text><text transform="translate(484.28 546.61) rotate(56.14)" y="1.03" textLength="6.3" lengthAdjust="spacingAndGlyphs">2017</text><text transform="translate(478.8 550.17) rotate(57.92)" y="1.03" textLength="6.3" lengthAdjust="spacingAndGlyphs">1859</text><text transform="translate(473.21 553.55) rotate(59.7)" y="1.03" textLength="6.3" lengthAdjust="spacingAndGlyphs">1990</text><text transform="translate(467.52 556.76) rotate(61.49)" y="1.03" textLength="6.3" lengthAdjust="spacingAndGlyphs">2008</text><text transform="translate(461.73 559.78) rotate(63.27)" y="1.03" textLength="6.3" lengthAdjust="spacingAndGlyphs">2012</text><text transform="translate(455.86 562.63) rotate(65.05)" y="1.03" textLength="6.3" lengthAdjust="spacingAndGlyphs">2016</text><text transform="translate(449.89 565.29) rotate(66.83)" y="1.03" textLength="6.3" lengthAdjust="spacingAndGlyphs">2004</text><text transform="translate(443.85 567.77) rotate(68.61)" y="1.03" textLength="6.3" lengthAdjust="spacingAndGlyphs">2015</text><text transform="translate(437.73 570.06) rotate(70.4)" y="1.03" textLength="6.3" lengthAdjust="spacingAndGlyphs">2006</text><text transform="translate(431.54 572.15) rotate(72.18)" y="1.03" textLength="6.3" lengthAdjust="spacingAndGlyphs">2004</text><text transform="translate(425.29 574.05) rotate(73.96)" y="1.03" textLength="6.3" lengthAdjust="spacingAndGlyphs">2016</text><text transform="translate(418.99 575.76) rotate(75.74)" y="1.03" textLength="6.3" lengthAdjust="spacingAndGlyphs">2011</text><text transform="translate(412.63 577.27) rotate(77.52)" y="1.03" textLength="6.3" lengthAdjust="spacingAndGlyphs">2007</text><text transform="translate(406.24 578.58) rotate(79.31)" y="1.03" textLength="6.3" lengthAdjust="spacingAndGlyphs">1965</text><text transform="translate(399.8 579.7) rotate(81.09)" y="1.03" textLength="6.3" lengthAdjust="spacingAndGlyphs">2001</text><text transform="translate(393.33 580.61) rotate(82.87)" y="1.03" textLength="6.3" lengthAdjust="spacingAndGlyphs">1957</text><text transform="translate(386.84 581.32) rotate(84.65)" y="1.03" textLength="6.3" lengthAdjust="spacingAndGlyphs">1896</text><text transform="translate(380.33 581.82) rotate(86.44)" y="1.03" textLength="6.3" lengthAdjust="spacingAndGlyphs">1965</text><text transform="translate(373.8 582.13) rotate(88.22)" y="1.03" textLength="6.3" lengthAdjust="spacingAndGlyphs">2008</text><text transform="translate(367.27 582.23) rotate(90)" y="1.03" textLength="6.3" lengthAdjust="spacingAndGlyphs">1979</text><text transform="translate(360.54 588.43) rotate(271.78)" y="1.03" textLength="6.3" lengthAdjust="spacingAndGlyphs">1990</text><text transform="translate(353.82 588.11) rotate(273.56)" y="1.03" textLength="6.3" lengthAdjust="spacingAndGlyphs">2014</text><text transform="translate(347.12 587.59) rotate(275.35)" y="1.03" textLength="6.3" lengthAdjust="spacingAndGlyphs">2006</text><text transform="translate(340.43 586.86) rotate(277.13)" y="1.03" textLength="6.3" lengthAdjust="spacingAndGlyphs">2017</text><text transform="translate(333.77 585.92) rotate(278.91)" y="1.03" textLength="6.3" lengthAdjust="spacingAndGlyphs">2013</text><text transform="translate(327.14 584.77) rotate(280.69)" y="1.03" textLength="6.3" lengthAdjust="spacingAndGlyphs">1992</text><text transform="translate(320.55 583.42) rotate(282.48)" y="1.03" textLength="6.3" lengthAdjust="spacingAndGlyphs">2006</text><text transform="translate(314 581.87) rotate(284.26)" y="1.03" textLength="6.3" lengthAdjust="spacingAndGlyphs">2009</text><text transform="translate(307.51 580.11) rotate(286.04)" y="1.03" textLength="6.3" lengthAdjust="spacingAndGlyphs">2004</text><text transform="translate(301.07 578.15) rotate(287.82)" y="1.03" textLength="6.3" lengthAdjust="spacingAndGlyphs">2011</text><text transform="translate(294.7 575.99) rotate(289.6)" y="1.03" textLength="6.3" lengthAdjust="spacingAndGlyphs">2001</text><text transform="translate(288.4 573.64) rotate(291.39)" y="1.03" textLength="6.3" lengthAdjust="spacingAndGlyphs">2010</text><text transform="translate(282.17 571.09) rotate(293.17)" y="1.03" textLength="6.3" lengthAdjust="spacingAndGlyphs">2011</text><text transform="translate(276.03 568.34) rotate(294.95)" y="1.03" textLength="6.3" lengthAdjust="spacingAndGlyphs">2006</text><text transform="translate(269.97 565.41) rotate(296.73)" y="1.03" textLength="6.3" lengthAdjust="spacingAndGlyphs">2011</text><text transform="translate(264.01 562.29) rotate(298.51)" y="1.03" textLength="6.3" lengthAdjust="spacingAndGlyphs">1988</text><text transform="translate(258.15 558.99) rotate(300.3)" y="1.03" textLength="6.3" lengthAdjust="spacingAndGlyphs">1997</text><text transform="translate(252.39 555.5) rotate(302.08)" y="1.03" textLength="6.3" lengthAdjust="spacingAndGlyphs">2014</text><text transform="translate(246.75 551.84) rotate(303.86)" y="1.03" textLength="6.3" lengthAdjust="spacingAndGlyphs">1859</text><text transform="translate(241.22 548.01) rotate(305.64)" y="1.03" textLength="6.3" lengthAdjust="spacingAndGlyphs">1990</text><text transform="translate(235.82 544) rotate(307.43)" y="1.03" textLength="6.3" lengthAdjust="spacingAndGlyphs">2012</text><text transform="translate(230.54 539.83) rotate(309.21)" y="1.03" textLength="6.3" lengthAdjust="spacingAndGlyphs">2014</text><text transform="translate(225.39 535.5) rotate(310.99)" y="1.03" textLength="6.3" lengthAdjust="spacingAndGlyphs">2015</text><text transform="translate(220.38 531.01) rotate(312.77)" y="1.03" textLength="6.3" lengthAdjust="spacingAndGlyphs">1972</text><text transform="translate(215.52 526.36) rotate(314.55)" y="1.03" textLength="6.3" lengthAdjust="spacingAndGlyphs">2015</text><text transform="translate(210.8 521.57) rotate(316.34)" y="1.03" textLength="6.3" lengthAdjust="spacingAndGlyphs">1997</text><text transform="translate(206.23 516.63) rotate(318.12)" y="1.03" textLength="6.3" lengthAdjust="spacingAndGlyphs">2017</text><text transform="translate(201.82 511.55) rotate(319.9)" y="1.03" textLength="6.3" lengthAdjust="spacingAndGlyphs">2010</text><text transform="translate(197.56 506.34) rotate(321.68)" y="1.03" textLength="6.3" lengthAdjust="spacingAndGlyphs">2005</text><text transform="translate(193.47 501) rotate(323.47)" y="1.03" textLength="6.3" lengthAdjust="spacingAndGlyphs">2011</text><text transform="translate(189.55 495.53) rotate(325.25)" y="1.03" textLength="6.3" lengthAdjust="spacingAndGlyphs">2011</text><text transform="translate(185.8 489.94) rotate(327.03)" y="1.03" textLength="6.3" lengthAdjust="spacingAndGlyphs">1957</text><text transform="translate(182.23 484.24) rotate(328.81)" y="1.03" textLength="6.3" lengthAdjust="spacingAndGlyphs">2015</text><text transform="translate(178.84 478.43) rotate(330.59)" y="1.03" textLength="6.3" lengthAdjust="spacingAndGlyphs">2009</text><text transform="translate(175.63 472.52) rotate(332.38)" y="1.03" textLength="6.3" lengthAdjust="spacingAndGlyphs">2013</text><text transform="translate(172.6 466.51) rotate(334.16)" y="1.03" textLength="6.3" lengthAdjust="spacingAndGlyphs">1979</text><text transform="translate(169.76 460.41) rotate(335.94)" y="1.03" textLength="6.3" lengthAdjust="spacingAndGlyphs">2013</text><text transform="translate(167.11 454.23) rotate(337.72)" y="1.03" textLength="6.3" lengthAdjust="spacingAndGlyphs">1995</text><text transform="translate(164.66 447.96) rotate(339.5)" y="1.03" textLength="6.3" lengthAdjust="spacingAndGlyphs">2007</text><text transform="translate(162.4 441.62) rotate(341.29)" y="1.03" textLength="6.3" lengthAdjust="spacingAndGlyphs">1998</text><text transform="translate(160.34 435.22) rotate(343.07)" y="1.03" textLength="6.3" lengthAdjust="spacingAndGlyphs">2011</text><text transform="translate(158.49 428.75) rotate(344.85)" y="1.03" textLength="6.3" lengthAdjust="spacingAndGlyphs">1990</text><text transform="translate(156.83 422.23) rotate(346.63)" y="1.03" textLength="6.3" lengthAdjust="spacingAndGlyphs">1992</text><text transform="translate(155.38 415.66) rotate(348.42)" y="1.03" textLength="6.3" lengthAdjust="spacingAndGlyphs">2014</text><text transform="translate(154.13 409.05) rotate(350.2)" y="1.03" textLength="6.3" lengthAdjust="spacingAndGlyphs">1957</text><text transform="translate(153.09 402.41) rotate(351.98)" y="1.03" textLength="6.3" lengthAdjust="spacingAndGlyphs">2006</text><text transform="translate(152.25 395.73) rotate(353.76)" y="1.03" textLength="6.3" lengthAdjust="spacingAndGlyphs">1938</text><text transform="translate(151.62 389.03) rotate(355.54)" y="1.03" textLength="6.3" lengthAdjust="spacingAndGlyphs">2008</text><text transform="translate(151.21 382.32) rotate(357.33)" y="1.03" textLength="6.3" lengthAdjust="spacingAndGlyphs">1857</text><text transform="translate(151 375.59) rotate(359.11)" y="1.03" textLength="6.3" lengthAdjust="spacingAndGlyphs">1965</text><text transform="translate(151 368.87) rotate(360.89)" y="1.03" textLength="6.3" lengthAdjust="spacingAndGlyphs">2001</text><text transform="translate(151.21 362.14) rotate(362.67)" y="1.03" textLength="6.3" lengthAdjust="spacingAndGlyphs">2007</text><text transform="translate(151.62 355.43) rotate(364.46)" y="1.03" textLength="6.3" lengthAdjust="spacingAndGlyphs">1990</text><text transform="translate(152.25 348.73) rotate(366.24)" y="1.03" textLength="6.3" lengthAdjust="spacingAndGlyphs">1996</text><text transform="translate(153.09 342.05) rotate(368.02)" y="1.03" textLength="6.3" lengthAdjust="spacingAndGlyphs">2014</text><text transform="translate(154.13 335.41) rotate(369.8)" y="1.03" textLength="6.3" lengthAdjust="spacingAndGlyphs">1824</text><text transform="translate(155.38 328.8) rotate(371.58)" y="1.03" textLength="6.3" lengthAdjust="spacingAndGlyphs">1901</text><text transform="translate(156.83 322.23) rotate(373.37)" y="1.03" textLength="6.3" lengthAdjust="spacingAndGlyphs">1967</text><text transform="translate(158.49 315.71) rotate(375.15)" y="1.03" textLength="6.3" lengthAdjust="spacingAndGlyphs">2012</text><text transform="translate(160.34 309.24) rotate(376.93)" y="1.03" textLength="6.3" lengthAdjust="spacingAndGlyphs">1966</text><text transform="translate(162.4 302.84) rotate(378.71)" y="1.03" textLength="6.3" lengthAdjust="spacingAndGlyphs">2013</text><text transform="translate(164.66 296.5) rotate(380.5)" y="1.03" textLength="6.3" lengthAdjust="spacingAndGlyphs">2008</text><text transform="translate(167.11 290.23) rotate(382.28)" y="1.03" textLength="6.3" lengthAdjust="spacingAndGlyphs">1938</text><text transform="translate(169.76 284.05) rotate(384.06)" y="1.03" textLength="6.3" lengthAdjust="spacingAndGlyphs">2010</text><text transform="translate(172.6 277.95) rotate(385.84)" y="1.03" textLength="6.3" lengthAdjust="spacingAndGlyphs">2001</text><text transform="translate(175.63 271.94) rotate(387.62)" y="1.03" textLength="6.3" lengthAdjust="spacingAndGlyphs">1938</text><text transform="translate(178.84 266.03) rotate(389.41)" y="1.03" textLength="6.3" lengthAdjust="spacingAndGlyphs">2006</text><text transform="translate(182.23 260.22) rotate(391.19)" y="1.03" textLength="6.3" lengthAdjust="spacingAndGlyphs">1965</text><text transform="translate(185.8 254.52) rotate(392.97)" y="1.03" textLength="6.3" lengthAdjust="spacingAndGlyphs">1859</text><text transform="translate(189.55 248.93) rotate(394.75)" y="1.03" textLength="6.3" lengthAdjust="spacingAndGlyphs">1992</text><text transform="translate(193.47 243.46) rotate(396.53)" y="1.03" textLength="6.3" lengthAdjust="spacingAndGlyphs">2006</text><text transform="translate(197.56 238.12) rotate(398.32)" y="1.03" textLength="6.3" lengthAdjust="spacingAndGlyphs">2017</text><text transform="translate(201.82 232.91) rotate(400.1)" y="1.03" textLength="6.3" lengthAdjust="spacingAndGlyphs">2006</text><text transform="translate(206.23 227.83) rotate(401.88)" y="1.03" textLength="6.3" lengthAdjust="spacingAndGlyphs">1957</text><text transform="translate(210.8 222.89) rotate(403.66)" y="1.03" textLength="6.3" lengthAdjust="spacingAndGlyphs">1896</text><text transform="translate(215.52 218.1) rotate(405.45)" y="1.03" textLength="6.3" lengthAdjust="spacingAndGlyphs">2012</text><text transform="translate(220.38 213.45) rotate(407.23)" y="1.03" textLength="6.3" lengthAdjust="spacingAndGlyphs">2012</text><text transform="translate(225.39 208.96) rotate(409.01)" y="1.03" textLength="6.3" lengthAdjust="spacingAndGlyphs">2017</text><text transform="translate(230.54 204.63) rotate(410.79)" y="1.03" textLength="6.3" lengthAdjust="spacingAndGlyphs">1896</text><text transform="translate(235.82 200.46) rotate(412.57)" y="1.03" textLength="6.3" lengthAdjust="spacingAndGlyphs">2004</text><text transform="translate(241.22 196.45) rotate(414.36)" y="1.03" textLength="6.3" lengthAdjust="spacingAndGlyphs">2015</text><text transform="translate(246.75 192.62) rotate(416.14)" y="1.03" textLength="6.3" lengthAdjust="spacingAndGlyphs">2011</text><text transform="translate(252.39 188.96) rotate(417.92)" y="1.03" textLength="6.3" lengthAdjust="spacingAndGlyphs">1997</text><text transform="translate(258.15 185.47) rotate(419.7)" y="1.03" textLength="6.3" lengthAdjust="spacingAndGlyphs">2010</text><text transform="translate(264.01 182.17) rotate(421.49)" y="1.03" textLength="6.3" lengthAdjust="spacingAndGlyphs">1990</text><text transform="translate(269.97 179.05) rotate(423.27)" y="1.03" textLength="6.3" lengthAdjust="spacingAndGlyphs">2009</text><text transform="translate(276.03 176.12) rotate(425.05)" y="1.03" textLength="6.3" lengthAdjust="spacingAndGlyphs">1988</text><text transform="translate(282.17 173.37) rotate(426.83)" y="1.03" textLength="6.3" lengthAdjust="spacingAndGlyphs">1896</text><text transform="translate(288.4 170.82) rotate(428.61)" y="1.03" textLength="6.3" lengthAdjust="spacingAndGlyphs">1992</text><text transform="translate(294.7 168.47) rotate(430.4)" y="1.03" textLength="6.3" lengthAdjust="spacingAndGlyphs">1859</text><text transform="translate(301.07 166.31) rotate(432.18)" y="1.03" textLength="6.3" lengthAdjust="spacingAndGlyphs">1938</text><text transform="translate(307.51 164.35) rotate(433.96)" y="1.03" textLength="6.3" lengthAdjust="spacingAndGlyphs">1957</text><text transform="translate(314 162.59) rotate(435.74)" y="1.03" textLength="6.3" lengthAdjust="spacingAndGlyphs">2012</text><text transform="translate(320.55 161.04) rotate(437.52)" y="1.03" textLength="6.3" lengthAdjust="spacingAndGlyphs">2010</text><text transform="translate(327.14 159.69) rotate(439.31)" y="1.03" textLength="6.3" lengthAdjust="spacingAndGlyphs">1896</text><text transform="translate(333.77 158.54) rotate(441.09)" y="1.03" textLength="6.3" lengthAdjust="spacingAndGlyphs">1979</text><text transform="translate(340.43 157.6) rotate(442.87)" y="1.03" textLength="6.3" lengthAdjust="spacingAndGlyphs">2006</text><text transform="translate(347.12 156.87) rotate(444.65)" y="1.03" textLength="6.3" lengthAdjust="spacingAndGlyphs">1992</text><text transform="translate(353.82 156.35) rotate(446.44)" y="1.03" textLength="6.3" lengthAdjust="spacingAndGlyphs">2012</text><text transform="translate(360.54 156.03) rotate(448.22)" y="1.03" textLength="6.3" lengthAdjust="spacingAndGlyphs">1990</text></g>
<g font-size="2.9" font-weight="700" fill="#111" stroke="#111" stroke-width="0.16" opacity="0.99"><text transform="translate(367.27 147.73) rotate(-90)" y="1.04" textLength="18.5" lengthAdjust="spacingAndGlyphs">Solar Cell Panel</text><text transform="translate(374.25 147.84) rotate(-88.22)" y="1.04" textLength="14.5" lengthAdjust="spacingAndGlyphs">Electric Car</text><text transform="translate(381.23 148.16) rotate(-86.44)" y="1.04" textLength="23.8" lengthAdjust="spacingAndGlyphs">Nuclear Reactor</text><text transform="translate(388.19 148.71) rotate(-84.65)" y="1.04" textLength="19" lengthAdjust="spacingAndGlyphs">Hybrid Vehicle</text><text transform="translate(395.13 149.47) rotate(-82.87)" y="1.04" textLength="54.8" lengthAdjust="spacingAndGlyphs">Tesla Gigafactory Powerwall (EV) and Toyota</text><text transform="translate(402.04 150.44) rotate(-81.09)" y="1.04" textLength="16.1" lengthAdjust="spacingAndGlyphs">Carbon Fiber</text><text transform="translate(408.93 151.63) rotate(-79.31)" y="1.04" textLength="16.7" lengthAdjust="spacingAndGlyphs">Wind Turbine</text><text transform="translate(415.77 153.03) rotate(-77.52)" y="1.04" textLength="33.4" lengthAdjust="spacingAndGlyphs">Digital Camera Kodak</text><text transform="translate(422.56 154.64) rotate(-75.74)" y="1.04" textLength="25.1" lengthAdjust="spacingAndGlyphs">Steam Engine Watt</text><text transform="translate(429.3 156.47) rotate(-73.96)" y="1.04" textLength="8.6" lengthAdjust="spacingAndGlyphs">Radar</text><text transform="translate(435.98 158.5) rotate(-72.18)" y="1.04" textLength="22.5" lengthAdjust="spacingAndGlyphs">Combustion Engine</text><text transform="translate(442.59 160.74) rotate(-70.4)" y="1.04" textLength="28" lengthAdjust="spacingAndGlyphs">Telephone Graham Bell</text><text transform="translate(449.13 163.19) rotate(-68.61)" y="1.04" textLength="16.6" lengthAdjust="spacingAndGlyphs">Jet Engine</text><text transform="translate(455.6 165.84) rotate(-66.83)" y="1.04" textLength="48.1" lengthAdjust="spacingAndGlyphs">Spinning Jenny Industrial Revolution start</text><text transform="translate(461.97 168.68) rotate(-65.05)" y="1.04" textLength="28" lengthAdjust="spacingAndGlyphs">Electric Light Bulb</text><text transform="translate(468.26 171.73) rotate(-63.27)" y="1.04" textLength="18.1" lengthAdjust="spacingAndGlyphs">PC Internet</text><text transform="translate(474.44 174.96) rotate(-61.49)" y="1.04" textLength="26.9" lengthAdjust="spacingAndGlyphs">Keeling Mauna Loa</text><text transform="translate(480.53 178.39) rotate(-59.7)" y="1.04" textLength="40.7" lengthAdjust="spacingAndGlyphs">Global Warming Potential (GWP)</text><text transform="translate(486.5 182.01) rotate(-57.92)" y="1.04" textLength="33.6" lengthAdjust="spacingAndGlyphs">CO2 4 billion tons per year</text><text transform="translate(492.36 185.81) rotate(-56.14)" y="1.04" textLength="34" lengthAdjust="spacingAndGlyphs">CO2 8 billion tons per year</text><text transform="translate(498.1 189.79) rotate(-54.36)" y="1.04" textLength="50.6" lengthAdjust="spacingAndGlyphs">Kyoto Biggest Greenhouse Gas Buffer</text><text transform="translate(503.71 193.95) rotate(-52.57)" y="1.04" textLength="58.4" lengthAdjust="spacingAndGlyphs">Svalbard Greenhouse and Climate Impact Fund</text><text transform="translate(509.18 198.27) rotate(-50.79)" y="1.04" textLength="34" lengthAdjust="spacingAndGlyphs">CO2 1 billion tons per year</text><text transform="translate(514.53 202.77) rotate(-49.01)" y="1.04" textLength="46.8" lengthAdjust="spacingAndGlyphs">UTS Emissions: 310 parts per million</text><text transform="translate(519.72 207.43) rotate(-47.23)" y="1.04" textLength="48.2" lengthAdjust="spacingAndGlyphs">UTS Emissions: 400 parts per million</text><text transform="translate(524.78 212.25) rotate(-45.45)" y="1.04" textLength="46.1" lengthAdjust="spacingAndGlyphs">UTS Emissions: 350 parts per million</text><text transform="translate(529.68 217.23) rotate(-43.66)" y="1.04" textLength="44.7" lengthAdjust="spacingAndGlyphs">UTS Atmospheric Balance 10 years</text><text transform="translate(534.42 222.36) rotate(-41.88)" y="1.04" textLength="31.5" lengthAdjust="spacingAndGlyphs">IPCC Nobel Peace Prize</text><text transform="translate(539 227.63) rotate(-40.1)" y="1.04" textLength="47.1" lengthAdjust="spacingAndGlyphs">UNs engagement on climate change</text><text transform="translate(543.41 233.04) rotate(-38.32)" y="1.04" textLength="29" lengthAdjust="spacingAndGlyphs">James Hansen speech</text><text transform="translate(547.66 238.58) rotate(-36.53)" y="1.04" textLength="37.1" lengthAdjust="spacingAndGlyphs">USA leaves Paris Agreement</text><text transform="translate(551.72 244.26) rotate(-34.75)" y="1.04" textLength="9.7" lengthAdjust="spacingAndGlyphs">BREXIT</text><text transform="translate(555.61 250.06) rotate(-32.97)" y="1.04" textLength="19.8" lengthAdjust="spacingAndGlyphs">UNFCCC Bonn</text><text transform="translate(559.32 255.97) rotate(-31.19)" y="1.04" textLength="23.5" lengthAdjust="spacingAndGlyphs">Doha Amendment</text><text transform="translate(562.85 262) rotate(-29.41)" y="1.04" textLength="36.9" lengthAdjust="spacingAndGlyphs">UN Priority - Climate Change</text><text transform="translate(566.18 268.14) rotate(-27.62)" y="1.04" textLength="23.3" lengthAdjust="spacingAndGlyphs">Fast Start Finance</text><text transform="translate(569.32 274.37) rotate(-25.84)" y="1.04" textLength="62" lengthAdjust="spacingAndGlyphs">Marrakech Partnership for Global Climate Action</text><text transform="translate(572.27 280.71) rotate(-24.06)" y="1.04" textLength="32.4" lengthAdjust="spacingAndGlyphs">UK Global Treaty award</text><text transform="translate(575.01 287.12) rotate(-22.28)" y="1.04" textLength="21.5" lengthAdjust="spacingAndGlyphs">UNFCCC Cancun</text><text transform="translate(577.56 293.63) rotate(-20.5)" y="1.04" textLength="34.7" lengthAdjust="spacingAndGlyphs">USA leaves Kyoto Protocol</text><text transform="translate(579.9 300.2) rotate(-18.71)" y="1.04" textLength="41.6" lengthAdjust="spacingAndGlyphs">Kyoto Protocol International Law</text><text transform="translate(582.04 306.85) rotate(-16.93)" y="1.04" textLength="25.6" lengthAdjust="spacingAndGlyphs">UN Climate Summit</text><text transform="translate(583.97 313.56) rotate(-15.15)" y="1.04" textLength="19" lengthAdjust="spacingAndGlyphs">Kyoto Protocol</text><text transform="translate(585.69 320.33) rotate(-13.37)" y="1.04" textLength="18.2" lengthAdjust="spacingAndGlyphs">Creation IPCC</text><text transform="translate(587.2 327.15) rotate(-11.58)" y="1.04" textLength="24.5" lengthAdjust="spacingAndGlyphs">Warsaw Outcomes</text><text transform="translate(588.49 334.01) rotate(-9.8)" y="1.04" textLength="22.5" lengthAdjust="spacingAndGlyphs">UNEP foundation</text><text transform="translate(589.57 340.91) rotate(-8.02)" y="1.04" textLength="18.2" lengthAdjust="spacingAndGlyphs">Bali Roadmap</text><text transform="translate(590.44 347.84) rotate(-6.24)" y="1.04" textLength="21.7" lengthAdjust="spacingAndGlyphs">Paris Agreement</text><text transform="translate(591.09 354.79) rotate(-4.46)" y="1.04" textLength="31.8" lengthAdjust="spacingAndGlyphs">UNFCCC Rio de Janeiro</text><text transform="translate(591.53 361.76) rotate(-2.67)" y="1.04" textLength="22.8" lengthAdjust="spacingAndGlyphs">Montreal Protocol</text><text transform="translate(591.74 368.74) rotate(-0.89)" y="1.04" textLength="27" lengthAdjust="spacingAndGlyphs">Copenhagen Accord</text><text transform="translate(591.74 375.72) rotate(0.89)" y="1.04" textLength="18.1" lengthAdjust="spacingAndGlyphs">On the Beach</text><text transform="translate(591.53 382.7) rotate(2.67)" y="1.04" textLength="26.4" lengthAdjust="spacingAndGlyphs">The Burning Season</text><text transform="translate(591.09 389.67) rotate(4.46)" y="1.04" textLength="28.8" lengthAdjust="spacingAndGlyphs">Age of Consequences</text><text transform="translate(590.44 396.62) rotate(6.24)" y="1.04" textLength="23.9" lengthAdjust="spacingAndGlyphs">The Age Of Stupid</text><text transform="translate(589.57 403.55) rotate(8.02)" y="1.04" textLength="39.5" lengthAdjust="spacingAndGlyphs">The Day the Earth Caught Fire</text><text transform="translate(588.49 410.45) rotate(9.8)" y="1.04" textLength="24.8" lengthAdjust="spacingAndGlyphs">Not Evil Just Wrong</text><text transform="translate(587.2 417.31) rotate(11.58)" y="1.04" textLength="22.1" lengthAdjust="spacingAndGlyphs">End of the World</text><text transform="translate(585.69 424.13) rotate(13.37)" y="1.04" textLength="8.6" lengthAdjust="spacingAndGlyphs">Wall-E</text><text transform="translate(583.97 430.9) rotate(15.15)" y="1.04" textLength="13" lengthAdjust="spacingAndGlyphs">The Road</text><text transform="translate(582.04 437.61) rotate(16.93)" y="1.04" textLength="28.5" lengthAdjust="spacingAndGlyphs">An Inconvenient Truth</text><text transform="translate(579.9 444.26) rotate(18.71)" y="1.04" textLength="9.3" lengthAdjust="spacingAndGlyphs">Vertigo</text><text transform="translate(577.56 450.83) rotate(20.5)" y="1.04" textLength="29.6" lengthAdjust="spacingAndGlyphs">Greedy Lying Bastards</text><text transform="translate(575.01 457.34) rotate(22.28)" y="1.04" textLength="15.7" lengthAdjust="spacingAndGlyphs">The Martian</text><text transform="translate(572.27 463.75) rotate(24.06)" y="1.04" textLength="24.6" lengthAdjust="spacingAndGlyphs">Fight for the Planet</text><text transform="translate(569.32 470.09) rotate(25.84)" y="1.04" textLength="19" lengthAdjust="spacingAndGlyphs">Carbon Nation</text><text transform="translate(566.18 476.32) rotate(27.62)" y="1.04" textLength="20.6" lengthAdjust="spacingAndGlyphs">Time to Choose</text><text transform="translate(562.85 482.46) rotate(29.41)" y="1.04" textLength="20.6" lengthAdjust="spacingAndGlyphs">Cargo e Cinza</text><text transform="translate(559.32 488.49) rotate(31.19)" y="1.04" textLength="12.5" lengthAdjust="spacingAndGlyphs">Gasland</text><text transform="translate(555.61 494.4) rotate(32.97)" y="1.04" textLength="24.8" lengthAdjust="spacingAndGlyphs">Climate Refugees</text><text transform="translate(551.72 500.2) rotate(34.75)" y="1.04" textLength="15" lengthAdjust="spacingAndGlyphs">The Colony</text><text transform="translate(547.66 505.88) rotate(36.53)" y="1.04" textLength="26.8" lengthAdjust="spacingAndGlyphs">A Climate of Change</text><text transform="translate(543.41 511.42) rotate(38.32)" y="1.04" textLength="19.9" lengthAdjust="spacingAndGlyphs">The Bone of Oil</text><text transform="translate(539 516.83) rotate(40.1)" y="1.04" textLength="30.5" lengthAdjust="spacingAndGlyphs">The Antarctica Challenge</text><text transform="translate(534.42 522.1) rotate(41.88)" y="1.04" textLength="18.8" lengthAdjust="spacingAndGlyphs">Meet the Truth</text><text transform="translate(529.68 527.23) rotate(43.66)" y="1.04" textLength="27.6" lengthAdjust="spacingAndGlyphs">The End of the World</text><text transform="translate(524.78 532.21) rotate(45.45)" y="1.04" textLength="18.2" lengthAdjust="spacingAndGlyphs">The Great Oil</text><text transform="translate(519.72 537.03) rotate(47.23)" y="1.04" textLength="21.5" lengthAdjust="spacingAndGlyphs">Racing Extinction</text><text transform="translate(514.53 541.69) rotate(49.01)" y="1.04" textLength="24.8" lengthAdjust="spacingAndGlyphs">Before the Flood</text><text transform="translate(509.18 546.19) rotate(50.79)" y="1.04" textLength="13.9" lengthAdjust="spacingAndGlyphs">Snowpiercer</text><text transform="translate(503.71 550.51) rotate(52.57)" y="1.04" textLength="23.6" lengthAdjust="spacingAndGlyphs">The Happening</text><text transform="translate(498.1 554.67) rotate(54.36)" y="1.04" textLength="7.9" lengthAdjust="spacingAndGlyphs">Avatar</text><text transform="translate(492.36 558.65) rotate(56.14)" y="1.04" textLength="15" lengthAdjust="spacingAndGlyphs">Geostorm</text><text transform="translate(486.5 562.45) rotate(57.92)" y="1.04" textLength="36" lengthAdjust="spacingAndGlyphs">The Day After Tomorrow</text><text transform="translate(480.53 566.07) rotate(59.7)" y="1.04" textLength="23.6" lengthAdjust="spacingAndGlyphs">Chasing Coral</text><text transform="translate(474.44 569.5) rotate(61.49)" y="1.04" textLength="13.2" lengthAdjust="spacingAndGlyphs">Waterworld</text><text transform="translate(468.26 572.73) rotate(63.27)" y="1.04" textLength="18.3" lengthAdjust="spacingAndGlyphs">Interstellar</text><text transform="translate(461.97 575.78) rotate(65.05)" y="1.04" textLength="24.5" lengthAdjust="spacingAndGlyphs">Soylent Green</text><text transform="translate(455.6 578.62) rotate(66.83)" y="1.04" textLength="27" lengthAdjust="spacingAndGlyphs">Mad Max Fury Road</text><text transform="translate(449.13 581.27) rotate(68.61)" y="1.04" textLength="46.5" lengthAdjust="spacingAndGlyphs">Beasts of the Southern Wild and Water</text><text transform="translate(442.59 583.72) rotate(70.4)" y="1.04" textLength="19.3" lengthAdjust="spacingAndGlyphs">Chasing Ice</text><text transform="translate(435.98 585.96) rotate(72.18)" y="1.04" textLength="16" lengthAdjust="spacingAndGlyphs">Home</text><text transform="translate(429.3 587.99) rotate(73.96)" y="1.04" textLength="20.2" lengthAdjust="spacingAndGlyphs">Silent Running</text><text transform="translate(422.56 589.82) rotate(75.74)" y="1.04" textLength="46.9" lengthAdjust="spacingAndGlyphs">An Inconvenient Sequel: Truth to Power</text><text transform="translate(415.77 591.43) rotate(77.52)" y="1.04" textLength="14.3" lengthAdjust="spacingAndGlyphs">Tomorrow</text><text transform="translate(408.93 592.83) rotate(79.31)" y="1.04" textLength="18.9" lengthAdjust="spacingAndGlyphs">Cowspiracy</text><text transform="translate(402.04 594.02) rotate(81.09)" y="1.04" textLength="16.8" lengthAdjust="spacingAndGlyphs">The 11th Hour</text><text transform="translate(395.13 594.99) rotate(82.87)" y="1.04" textLength="26.6" lengthAdjust="spacingAndGlyphs">The Island President</text><text transform="translate(388.19 595.75) rotate(84.65)" y="1.04" textLength="10.5" lengthAdjust="spacingAndGlyphs">Okja</text><text transform="translate(381.23 596.3) rotate(86.44)" y="1.04" textLength="20.8" lengthAdjust="spacingAndGlyphs">This Changes All</text><text transform="translate(374.25 596.62) rotate(88.22)" y="1.04" textLength="16.4" lengthAdjust="spacingAndGlyphs">Merchants Doubt</text><text transform="translate(367.27 596.73) rotate(90)" y="1.04" textLength="12.4" lengthAdjust="spacingAndGlyphs">Sharkwater</text><text transform="translate(359.86 610.51) rotate(271.78)" y="1.04" textLength="13.9" lengthAdjust="spacingAndGlyphs">Blue Planet</text><text transform="translate(351.91 618.75) rotate(273.56)" y="1.04" textLength="22.5" lengthAdjust="spacingAndGlyphs">The Cove Document</text><text transform="translate(343.82 622.83) rotate(275.35)" y="1.04" textLength="27.2" lengthAdjust="spacingAndGlyphs">Who Killed Electric</text><text transform="translate(335.85 623.47) rotate(277.13)" y="1.04" textLength="28.7" lengthAdjust="spacingAndGlyphs">The Great Warming</text><text transform="translate(330.14 609.04) rotate(278.91)" y="1.04" textLength="15.2" lengthAdjust="spacingAndGlyphs">Earth 2100</text><text transform="translate(323.83 602.26) rotate(280.69)" y="1.04" textLength="9.6" lengthAdjust="spacingAndGlyphs">Arctic</text><text transform="translate(315.58 605.88) rotate(282.48)" y="1.04" textLength="14.8" lengthAdjust="spacingAndGlyphs">Ice on Fire</text><text transform="translate(307.15 608.81) rotate(284.26)" y="1.04" textLength="19.6" lengthAdjust="spacingAndGlyphs">Planet Earth</text><text transform="translate(296.51 618.36) rotate(286.04)" y="1.04" textLength="31.6" lengthAdjust="spacingAndGlyphs">Years of Living Danger</text><text transform="translate(293.85 600.62) rotate(287.82)" y="1.04" textLength="15.4" lengthAdjust="spacingAndGlyphs">Blackfish</text><text transform="translate(287.08 597.38) rotate(289.6)" y="1.04" textLength="14.5" lengthAdjust="spacingAndGlyphs">Trashed</text><text transform="translate(278.11 599.89) rotate(291.39)" y="1.04" textLength="20" lengthAdjust="spacingAndGlyphs">Virunga Park</text><text transform="translate(269.11 601.61) rotate(293.17)" y="1.04" textLength="25" lengthAdjust="spacingAndGlyphs">Sea of Shadows</text><text transform="translate(265.02 592.01) rotate(294.95)" y="1.04" textLength="17.9" lengthAdjust="spacingAndGlyphs">Anthropocene</text><text transform="translate(256.16 592.83) rotate(296.73)" y="1.04" textLength="22.5" lengthAdjust="spacingAndGlyphs">2040 Future</text><text transform="translate(234.89 615.89) rotate(298.51)" y="1.04" textLength="52.8" lengthAdjust="spacingAndGlyphs">Chile Earthquake - 9.5 Richter Scale</text><text transform="translate(229.9 607.34) rotate(300.3)" y="1.04" textLength="47.8" lengthAdjust="spacingAndGlyphs">Alaska Earthquake - 9.2 Richter Scale</text><text transform="translate(219.15 608.55) rotate(302.08)" y="1.04" textLength="54.4" lengthAdjust="spacingAndGlyphs">Sumatra Earthquake - 9.1 Richter Scale</text><text transform="translate(205.46 613.37) rotate(303.86)" y="1.04" textLength="65.9" lengthAdjust="spacingAndGlyphs">Great Smog of London and Big Smoke pollution</text><text transform="translate(216.69 582.22) rotate(305.64)" y="1.04" textLength="33.9" lengthAdjust="spacingAndGlyphs">Hurricane Typhoon Haiyan</text><text transform="translate(203.67 586.01) rotate(307.43)" y="1.04" textLength="44.7" lengthAdjust="spacingAndGlyphs">Tohoku Earthquake - 9.0 Richter</text><text transform="translate(184.58 596.16) rotate(309.21)" y="1.04" textLength="64.5" lengthAdjust="spacingAndGlyphs">Kamchatka Earthquake - 9.0 Richter Scale</text><text transform="translate(179.67 588.11) rotate(310.99)" y="1.04" textLength="61.5" lengthAdjust="spacingAndGlyphs">Ecuador Earthquake - 8.8 Richter Scale</text><text transform="translate(177.8 577.03) rotate(312.77)" y="1.04" textLength="54.5" lengthAdjust="spacingAndGlyphs">Assam Earthquake - 8.6 Richter Scale</text><text transform="translate(174.19 568.33) rotate(314.55)" y="1.04" textLength="50.7" lengthAdjust="spacingAndGlyphs">Rat Islands Earthquake - 8.7 Richter</text><text transform="translate(170.65 559.89) rotate(316.34)" y="1.04" textLength="47.3" lengthAdjust="spacingAndGlyphs">Haiti Earthquake - 7.0 Richter Scale</text><text transform="translate(183.15 537.32) rotate(318.12)" y="1.04" textLength="22.8" lengthAdjust="spacingAndGlyphs">Hurricane Harvey</text><text transform="translate(158.67 547.88) rotate(319.9)" y="1.04" textLength="48.2" lengthAdjust="spacingAndGlyphs">Valdivia Earthquake - 9.5 Richter</text><text transform="translate(172.22 526.36) rotate(321.68)" y="1.04" textLength="24.1" lengthAdjust="spacingAndGlyphs">Hurricane Katrina</text><text transform="translate(125.74 551.18) rotate(323.47)" y="1.04" textLength="76.1" lengthAdjust="spacingAndGlyphs">Charles Keeling - CO2 concentration measurement proof</text><text transform="translate(135.49 533.04) rotate(325.25)" y="1.04" textLength="57.6" lengthAdjust="spacingAndGlyphs">Wallace Broecker - &quot;Global warming&quot; term</text><text transform="translate(99.98 545.61) rotate(327.03)" y="1.04" textLength="94.1" lengthAdjust="spacingAndGlyphs">Dipesh Chakrabarty - &quot;No attempt to think on an Unimagined Scale&quot;</text><text transform="translate(100.36 533.8) rotate(328.81)" y="1.04" textLength="87.5" lengthAdjust="spacingAndGlyphs">Ulrich Beck - Megafone gives Plato's land surface really exists</text><text transform="translate(151.4 493.9) rotate(330.59)" y="1.04" textLength="23.3" lengthAdjust="spacingAndGlyphs">&quot;Climate Gate&quot;</text><text transform="translate(121.84 500.66) rotate(332.38)" y="1.04" textLength="52.5" lengthAdjust="spacingAndGlyphs">IPCC - Sixth scientific of malpractice</text><text transform="translate(97.27 503) rotate(334.16)" y="1.04" textLength="75.5" lengthAdjust="spacingAndGlyphs">Paul Crutzen - Anthropocene from Industrial Revolution</text><text transform="translate(83.75 498.82) rotate(335.94)" y="1.04" textLength="86" lengthAdjust="spacingAndGlyphs">Roger Revelle - Seawater will not absorb CO2 entering atmosphere</text><text transform="translate(114.18 475.91) rotate(337.72)" y="1.04" textLength="49" lengthAdjust="spacingAndGlyphs">IPCC - Second Assessment Report</text><text transform="translate(99.37 472.37) rotate(339.5)" y="1.04" textLength="61.5" lengthAdjust="spacingAndGlyphs">Timothy Morton - &quot;Ecology without Nature&quot;</text><text transform="translate(125.28 454.2) rotate(341.29)" y="1.04" textLength="31" lengthAdjust="spacingAndGlyphs">&quot;Hockey Stick&quot; graph</text><text transform="translate(95.29 455.02) rotate(343.07)" y="1.04" textLength="59.8" lengthAdjust="spacingAndGlyphs">Svante Arrhenius - Coal burning enhances G.E.</text><text transform="translate(101.34 444.22) rotate(344.85)" y="1.04" textLength="51" lengthAdjust="spacingAndGlyphs">McKenzie Wark - &quot;Molecular Red&quot;</text><text transform="translate(65.96 443.83) rotate(346.63)" y="1.04" textLength="85.2" lengthAdjust="spacingAndGlyphs">Vladimir Vernadsky - &quot;The Transition from.. to the Noosphere&quot;</text><text transform="translate(117.46 423.44) rotate(348.42)" y="1.04" textLength="30.5" lengthAdjust="spacingAndGlyphs">IPCC Fifth Assessment</text><text transform="translate(64.95 424.46) rotate(350.2)" y="1.04" textLength="82.3" lengthAdjust="spacingAndGlyphs">Miguel Place - Doubling CO2 concentrations increase T by 2-4C</text><text transform="translate(72.09 413.82) rotate(351.98)" y="1.04" textLength="73.6" lengthAdjust="spacingAndGlyphs">Stern Review - Climate change hits global GDP by 20%</text><text transform="translate(92.31 402.28) rotate(353.76)" y="1.04" textLength="52.1" lengthAdjust="spacingAndGlyphs">Guy Callendar - &quot;Callendar effect&quot;</text><text transform="translate(63.49 395.9) rotate(355.54)" y="1.04" textLength="80.2" lengthAdjust="spacingAndGlyphs">Edmond Halley - Warm air rises and spreads towards poles</text><text transform="translate(72.09 386.01) rotate(357.33)" y="1.04" textLength="71" lengthAdjust="spacingAndGlyphs">John Tyndall - Water Vapor and other gases causes G.E.</text><text transform="translate(56.91 377.06) rotate(359.11)" y="1.04" textLength="85.9" lengthAdjust="spacingAndGlyphs">US President Advisory Committee - greenhouse gases real concern</text><text transform="translate(97.5 368.03) rotate(360.89)" y="1.04" textLength="45.3" lengthAdjust="spacingAndGlyphs">IPCC - Third Assessment Report</text><text transform="translate(94.97 359.52) rotate(362.67)" y="1.04" textLength="48.1" lengthAdjust="spacingAndGlyphs">IPCC - Fourth Assessment Report</text><text transform="translate(99.08 351.33) rotate(364.46)" y="1.04" textLength="44.5" lengthAdjust="spacingAndGlyphs">IPCC - First Assessment Report</text><text transform="translate(124.42 345.69) rotate(366.24)" y="1.04" textLength="19.8" lengthAdjust="spacingAndGlyphs">Accelerationism</text><text transform="translate(68.52 330.14) rotate(368.02)" y="1.04" textLength="77.2" lengthAdjust="spacingAndGlyphs">Jose Luis de Vicente - &quot;Mitigation of Shock&quot; Installation</text><text transform="translate(81.01 322.77) rotate(369.8)" y="1.04" textLength="66" lengthAdjust="spacingAndGlyphs">Joseph Fourier - Earth is natural Greenhouse effect</text><text transform="translate(77.2 312.77) rotate(371.58)" y="1.04" textLength="71.6" lengthAdjust="spacingAndGlyphs">Knut Angstrom - CO2 absorption of infrared spectrum</text><text transform="translate(129.39 315.71) rotate(373.37)" y="1.04" textLength="20" lengthAdjust="spacingAndGlyphs">Apollo blackbush</text><text transform="translate(114.86 303.89) rotate(375.15)" y="1.04" textLength="37" lengthAdjust="spacingAndGlyphs">Multi-stage flash distillation</text><text transform="translate(125.43 298.61) rotate(376.93)" y="1.04" textLength="28.3" lengthAdjust="spacingAndGlyphs">Dubai Downtown orbit</text><text transform="translate(126.41 290.64) rotate(378.71)" y="1.04" textLength="29.8" lengthAdjust="spacingAndGlyphs">Hydrogen powered Car</text><text transform="translate(126.26 282.14) rotate(380.5)" y="1.04" textLength="32.8" lengthAdjust="spacingAndGlyphs">Warping Green Lighthouse</text><text transform="translate(118.53 270.33) rotate(382.28)" y="1.04" textLength="44.3" lengthAdjust="spacingAndGlyphs">America's first commercial oil well</text><text transform="translate(129.58 266.11) rotate(384.06)" y="1.04" textLength="35.8" lengthAdjust="spacingAndGlyphs">Vancouver Olympic building</text><text transform="translate(147.04 265.57) rotate(385.84)" y="1.04" textLength="20.2" lengthAdjust="spacingAndGlyphs">Lab-grown meat</text><text transform="translate(121.84 243.8) rotate(387.62)" y="1.04" textLength="52.5" lengthAdjust="spacingAndGlyphs">Fuel from CO2 / Carbon Engineering</text><text transform="translate(148.96 249.19) rotate(389.41)" y="1.04" textLength="26.1" lengthAdjust="spacingAndGlyphs">Transmission Engine</text><text transform="translate(130.73 229.04) rotate(391.19)" y="1.04" textLength="52" lengthAdjust="spacingAndGlyphs">Microsoft Disk Operating System (MS-Dos)</text><text transform="translate(140.75 225.29) rotate(392.97)" y="1.04" textLength="45.5" lengthAdjust="spacingAndGlyphs">International Business Machine (IBM)</text><text transform="translate(167.94 233.94) rotate(394.75)" y="1.04" textLength="18.1" lengthAdjust="spacingAndGlyphs">Wave Energy</text><text transform="translate(145.83 208.16) rotate(396.53)" y="1.04" textLength="51.1" lengthAdjust="spacingAndGlyphs">Tabulation Computer (UNIVAC I)</text><text transform="translate(138.33 191.31) rotate(398.32)" y="1.04" textLength="67.3" lengthAdjust="spacingAndGlyphs">Electronic Numerical Integrator and Computer (ENIAC)</text><text transform="translate(161.43 198.9) rotate(400.1)" y="1.04" textLength="44.6" lengthAdjust="spacingAndGlyphs">Colossus Mark Computer (Mark I)</text><text transform="translate(190.74 213.94) rotate(401.88)" y="1.04" textLength="12.6" lengthAdjust="spacingAndGlyphs">Ford Car</text><text transform="translate(191.05 204.04) rotate(403.66)" y="1.04" textLength="19.1" lengthAdjust="spacingAndGlyphs">Model T Ford</text><text transform="translate(189.56 191.73) rotate(405.45)" y="1.04" textLength="28.8" lengthAdjust="spacingAndGlyphs">US Steel Bessemer</text><text transform="translate(177.06 166.62) rotate(407.23)" y="1.04" textLength="55.6" lengthAdjust="spacingAndGlyphs">Transcontinental Railroad and Telegraph Network</text><text transform="translate(212.54 194.17) rotate(409.01)" y="1.04" textLength="11.4" lengthAdjust="spacingAndGlyphs">Benz Car</text><text transform="translate(216.25 187.12) rotate(410.79)" y="1.04" textLength="14.4" lengthAdjust="spacingAndGlyphs">Dynamite</text><text transform="translate(207.8 163.85) rotate(412.57)" y="1.04" textLength="37.9" lengthAdjust="spacingAndGlyphs">Commercial Electric Power Station</text><text transform="translate(219.25 165.81) rotate(414.36)" y="1.04" textLength="29.5" lengthAdjust="spacingAndGlyphs">Alternating Current Tesla</text><text transform="translate(222.12 155.91) rotate(416.14)" y="1.04" textLength="36" lengthAdjust="spacingAndGlyphs">Hydroelectric Power Plant</text><text transform="translate(228.12 150.23) rotate(417.92)" y="1.04" textLength="37.5" lengthAdjust="spacingAndGlyphs">Geothermal Power Larderello</text><text transform="translate(244.33 161.81) rotate(419.7)" y="1.04" textLength="19.2" lengthAdjust="spacingAndGlyphs">Diesel Engine</text><text transform="translate(248.78 154.14) rotate(421.49)" y="1.04" textLength="23.7" lengthAdjust="spacingAndGlyphs">Wright Brothers</text><text transform="translate(247.39 134.21) rotate(423.27)" y="1.04" textLength="42" lengthAdjust="spacingAndGlyphs">Haber Bosch Ammonia Synthesis</text><text transform="translate(268.22 159.34) rotate(425.05)" y="1.04" textLength="10.3" lengthAdjust="spacingAndGlyphs">Plastic</text><text transform="translate(274.42 155.26) rotate(426.83)" y="1.04" textLength="11.5" lengthAdjust="spacingAndGlyphs">Bakelite</text><text transform="translate(268.38 119.7) rotate(428.61)" y="1.04" textLength="46.7" lengthAdjust="spacingAndGlyphs">First Commercial Nuclear Power Plant</text><text transform="translate(282.32 133.71) rotate(430.4)" y="1.04" textLength="28.7" lengthAdjust="spacingAndGlyphs">Assembly Line Ford</text><text transform="translate(284.76 115.57) rotate(432.18)" y="1.04" textLength="45.1" lengthAdjust="spacingAndGlyphs">Large Hadron Collider and Higgs</text><text transform="translate(302.23 145.99) rotate(433.96)" y="1.04" textLength="10.9" lengthAdjust="spacingAndGlyphs">Transistor</text><text transform="translate(307.55 137.2) rotate(435.74)" y="1.04" textLength="18" lengthAdjust="spacingAndGlyphs">Sputnik One</text><text transform="translate(312.06 122.66) rotate(437.52)" y="1.04" textLength="31.1" lengthAdjust="spacingAndGlyphs">GPS Global Position</text><text transform="translate(317.32 107.7) rotate(439.31)" y="1.04" textLength="44.7" lengthAdjust="spacingAndGlyphs">Human Genome Project Complete</text><text transform="translate(328.84 127.12) rotate(441.09)" y="1.04" textLength="23.6" lengthAdjust="spacingAndGlyphs">World Wide Web</text><text transform="translate(329.31 68.69) rotate(442.87)" y="1.04" textLength="81.4" lengthAdjust="spacingAndGlyphs">Tesla Motors Lithium Powerwall (EV) and Electric Vehicle First Unit</text><text transform="translate(343.41 117.24) rotate(444.65)" y="1.04" textLength="31.6" lengthAdjust="spacingAndGlyphs">Apple iPhone Release</text><text transform="translate(352.14 129.3) rotate(446.44)" y="1.04" textLength="18.9" lengthAdjust="spacingAndGlyphs">Google Search</text><text transform="translate(359.91 135.74) rotate(448.22)" y="1.04" textLength="12.1" lengthAdjust="spacingAndGlyphs">Bitcoin</text></g>
<rect x="158" y="656" width="139.5" height="4.8" fill="url(#lg1)"/>
<rect x="437" y="656" width="139.5" height="4.8" fill="url(#lg2)"/>
<g font-size="6.6" fill="#1a1a1a" text-anchor="middle" opacity="0.99">
<text x="365" y="660" textLength="58.6" lengthAdjust="spacingAndGlyphs">Temperature Anomaly</text>
<text x="158.5" y="669.3">+1</text><text x="227.5" y="669.3">0</text><text x="295.2" y="669.3">-1</text>
<text x="436.3" y="669.3">-1</text><text x="506.3" y="669.3">0</text><text x="574.3" y="669.3">+1</text>
</g>
<rect x="142.7" y="676.6" width="67.1" height="4.6" fill="#b366b3"/>
<rect x="279.4" y="676.6" width="67.4" height="4.6" fill="#1b788a"/>
<rect x="428.8" y="676.6" width="67.2" height="4.6" fill="#e8607e"/>
<g font-size="6.6" fill="#1a1a1a" opacity="0.99">
<text x="210.8" y="681.2" textLength="61.5" lengthAdjust="spacingAndGlyphs">Industrial Development</text>
<text x="348.6" y="681.2" textLength="74.6" lengthAdjust="spacingAndGlyphs">Sustainable Consciousness</text>
<text x="499" y="681.2" textLength="98.3" lengthAdjust="spacingAndGlyphs">The Birth od the New Consciousness</text>
</g>
<defs><path id="spk" d="M0 -36.4L0 -40.72M1.13 -36.38L1.25 -40.18M2.26 -36.33L2.57 -41.34M3.39 -36.24L3.8 -40.61M4.52 -36.12L5.64 -45.13M5.64 -35.96L6.26 -39.92M6.75 -35.77L7.51 -39.78M7.86 -35.54L9.22 -41.67M8.96 -35.28L10.24 -40.31M10.06 -34.98L10.89 -37.89M11.14 -34.65L12.62 -39.27M12.21 -34.29L14.08 -39.53M13.27 -33.89L14.76 -37.69M14.32 -33.46L17.55 -41M15.35 -33L17.7 -38.05M16.37 -32.51L18.29 -36.32M17.38 -31.98L19.97 -36.75M18.36 -31.43L22.01 -37.67M19.33 -30.84L22.68 -36.18M20.28 -30.23L23.82 -35.5M21.21 -29.58L26.18 -36.51M22.12 -28.91L27.93 -36.49M23.01 -28.2L27.03 -33.13M23.88 -27.48L29.14 -33.54M24.72 -26.72L30.3 -32.75M25.54 -25.94L31.11 -31.59M26.33 -25.13L31.94 -30.49M27.1 -24.3L31.59 -28.32M27.84 -23.45L34.02 -28.64M28.56 -22.57L33.03 -26.1M29.25 -21.67L34.68 -25.69M29.91 -20.75L32.51 -22.56M30.54 -19.81L34.31 -22.25M31.14 -18.85L35.4 -21.43M31.71 -17.87L37.58 -21.18M32.25 -16.88L36.64 -19.17M32.76 -15.87L41.78 -20.23M33.24 -14.84L38.85 -17.34M33.68 -13.8L38.05 -15.59M34.1 -12.74L40.13 -15M34.48 -11.68L41.44 -14.04M34.82 -10.6L39.85 -12.13M35.14 -9.51L39.37 -10.66M35.41 -8.41L39.58 -9.41M35.66 -7.31L40.66 -8.34M35.87 -6.2L40.64 -7.02M36.04 -5.08L40.29 -5.68M36.18 -3.95L40.9 -4.47M36.29 -2.83L42.34 -3.3M36.36 -1.7L41.24 -1.93M36.4 -0.57L41.83 -0.65M36.4 0.57L40.67 0.63M36.36 1.7L41.71 1.95M36.29 2.83L41.95 3.27M36.18 3.95L41.19 4.5M36.04 5.08L43.05 6.07M35.87 6.2L40.94 7.07M35.66 7.31L40.36 8.27M35.41 8.41L38.36 9.11M35.14 9.51L38.61 10.45M34.82 10.6L40.21 12.24M34.48 11.68L37.43 12.68M34.1 12.74L39.51 14.77M33.68 13.8L37.34 15.3M33.24 14.84L37.91 16.93M32.76 15.87L36.71 17.78M32.25 16.88L36.32 19.01M31.71 17.87L35.72 20.13M31.14 18.85L34.16 20.68M30.54 19.81L34.86 22.61M29.91 20.75L33.08 22.95M29.25 21.67L33.59 24.89M28.56 22.57L32.09 25.36M27.84 23.45L32.35 27.24M27.1 24.3L30.35 27.21M26.33 25.13L30.32 28.94M25.54 25.94L28.54 28.99M24.72 26.72L27.92 30.18M23.88 27.48L27.25 31.36M23.01 28.2L25.36 31.09M22.12 28.91L25.15 32.87M21.21 29.58L22.92 31.97M20.28 30.23L22.43 33.44M19.33 30.84L22.85 36.45M18.36 31.43L20.88 35.74M17.38 31.98L19.11 35.17M16.37 32.51L18.31 36.35M15.35 33L17.51 37.64M14.32 33.46L16.46 38.46M13.27 33.89L16.19 41.33M12.21 34.29L13.7 38.46M11.14 34.65L12.36 38.46M10.06 34.98L11.31 39.35M8.96 35.28L10.95 43.07M7.86 35.54L8.68 39.22M6.75 35.77L7.57 40.07M5.64 35.96L6.27 40.01M4.52 36.12L5.19 41.46M3.39 36.24L3.7 39.5M2.26 36.33L2.55 40.94M1.13 36.38L1.26 40.43M0 36.4L0 39.92M-1.13 36.38L-1.25 40.1M-2.26 36.33L-2.56 41.17M-3.39 36.24L-3.9 41.68M-4.52 36.12L-5.22 41.73M-5.64 35.96L-6.24 39.8M-6.75 35.77L-7.34 38.87M-7.86 35.54L-8.69 39.29M-8.96 35.28L-10.06 39.61M-10.06 34.98L-11.73 40.79M-11.14 34.65L-12.34 38.38M-12.21 34.29L-13.49 37.87M-13.27 33.89L-14.92 38.1M-14.32 33.46L-16.36 38.22M-15.35 33L-17.15 36.85M-16.37 32.51L-18.55 36.84M-17.38 31.98L-21.59 39.73M-18.36 31.43L-22.48 38.48M-19.33 30.84L-24.13 38.49M-20.28 30.23L-26.15 38.97M-21.21 29.58L-24.91 34.73M-22.12 28.91L-26.83 35.07M-23.01 28.2L-29.55 36.22M-23.88 27.48L-30.41 34.99M-24.72 26.72L-30.86 33.35M-25.54 25.94L-31.53 32.02M-26.33 25.13L-32.19 30.72M-27.1 24.3L-30.74 27.56M-27.84 23.45L-34.13 28.74M-28.56 22.57L-32.53 25.7M-29.25 21.67L-38.78 28.73M-29.91 20.75L-37.67 26.13M-30.54 19.81L-42.47 27.55M-31.14 18.85L-42.57 25.77M-31.71 17.87L-36.02 20.3M-32.25 16.88L-40.03 20.95M-32.76 15.87L-43.37 21.01M-33.24 14.84L-45.26 20.21M-33.68 13.8L-41.38 16.95M-34.1 12.74L-43.42 16.23M-34.48 11.68L-40.12 13.59M-34.82 10.6L-44.13 13.43M-35.14 9.51L-43.42 11.75M-35.41 8.41L-48.12 11.43M-35.66 7.31L-41.43 8.49M-35.87 6.2L-48.36 8.36M-36.04 5.08L-47.47 6.69M-36.18 3.95L-44.86 4.9M-36.29 2.83L-48.66 3.79M-36.36 1.7L-47.55 2.22M-36.4 0.57L-49.55 0.77M-36.4 -0.57L-44.23 -0.69M-36.36 -1.7L-44.55 -2.08M-36.29 -2.83L-44 -3.43M-36.18 -3.95L-40.65 -4.44M-36.04 -5.08L-47.94 -6.75M-35.87 -6.2L-46.26 -7.99M-35.66 -7.31L-46.71 -9.57M-35.41 -8.41L-39.81 -9.46M-35.14 -9.51L-41.65 -11.28M-34.82 -10.6L-40.19 -12.23M-34.48 -11.68L-39.97 -13.54M-34.1 -12.74L-39.9 -14.91M-33.68 -13.8L-40.81 -16.72M-33.24 -14.84L-39.25 -17.53M-32.76 -15.87L-36.85 -17.85M-32.25 -16.88L-40.03 -20.95M-31.71 -17.87L-36.34 -20.48M-31.14 -18.85L-38.59 -23.36M-30.54 -19.81L-37.13 -24.09M-29.91 -20.75L-33.42 -23.18M-29.25 -21.67L-36.15 -26.79M-28.56 -22.57L-36.97 -29.21M-27.84 -23.45L-33.77 -28.43M-27.1 -24.3L-29.74 -26.67M-26.33 -25.13L-29.52 -28.17M-25.54 -25.94L-29.52 -29.98M-24.72 -26.72L-30.95 -33.46M-23.88 -27.48L-26.1 -30.04M-23.01 -28.2L-25.4 -31.14M-22.12 -28.91L-26.29 -34.36M-21.21 -29.58L-24.57 -34.26M-20.28 -30.23L-23.97 -35.72M-19.33 -30.84L-22.95 -36.61M-18.36 -31.43L-20.59 -35.24M-17.38 -31.98L-19.77 -36.38M-16.37 -32.51L-19.7 -39.12M-15.35 -33L-16.73 -35.95M-14.32 -33.46L-15.66 -36.6M-13.27 -33.89L-16.2 -41.36M-12.21 -34.29L-14.11 -39.62M-11.14 -34.65L-13.53 -42.09M-10.06 -34.98L-10.98 -38.18M-8.96 -35.28L-10.01 -39.41M-7.86 -35.54L-9.15 -41.37M-6.75 -35.77L-8.19 -43.39M-5.64 -35.96L-6.41 -40.89M-4.52 -36.12L-6.08 -48.58M-3.39 -36.24L-3.95 -42.25M-2.26 -36.33L-2.53 -40.7M-1.13 -36.38L-1.24 -39.87"/><path id="ab" d="M0 -10.8L0 -21.56M0.34 -10.79L0.7 -22.42M0.67 -10.78L1.34 -21.52M1.01 -10.75L2 -21.4M1.34 -10.72L2.82 -22.58M1.67 -10.67L4.29 -27.34M2 -10.61L3.62 -19.16M2.33 -10.55L5.02 -22.7M2.66 -10.47L7.75 -30.49M2.98 -10.38L7.59 -26.39M3.31 -10.28L6.56 -20.39M3.62 -10.17L8.61 -24.18M3.94 -10.06L7.85 -20.04M4.25 -9.93L8.47 -19.79M4.56 -9.79L9.07 -19.49M4.86 -9.65L15.32 -30.43M5.16 -9.49L14.78 -27.21M5.45 -9.32L11.99 -20.53M5.74 -9.15L16.53 -26.37M6.02 -8.97L15.07 -22.46M6.29 -8.78L18.16 -25.33M6.56 -8.58L18.52 -24.2M6.83 -8.37L13.52 -16.57M7.08 -8.15L16.08 -18.5M7.33 -7.93L21.25 -22.97M7.58 -7.7L21 -21.33M7.81 -7.46L15.49 -14.78M8.04 -7.21L23.32 -20.91M8.26 -6.96L22.83 -19.22M8.47 -6.7L22.44 -17.73M8.68 -6.43L27.72 -20.53M8.87 -6.16L29.14 -20.22M9.06 -5.88L28.88 -18.73M9.24 -5.59L26.42 -15.99M9.41 -5.3L27.65 -15.58M9.57 -5.01L28.45 -14.89M9.72 -4.71L32.04 -15.52M9.86 -4.4L24.71 -11.03M9.99 -4.09L29.68 -12.16M10.12 -3.78L28.24 -10.56M10.23 -3.46L30.07 -10.19M10.33 -3.15L31.11 -9.47M10.42 -2.82L28.38 -7.68M10.51 -2.5L27.92 -6.63M10.58 -2.17L30.74 -6.3M10.64 -1.84L23.58 -4.07M10.69 -1.51L31.1 -4.38M10.74 -1.17L33.92 -3.71M10.77 -0.84L26.27 -2.05M10.79 -0.5L27.68 -1.29M10.8 -0.17L31.34 -0.49M10.8 0.17L24.16 0.38M10.79 0.5L30.05 1.4M10.77 0.84L35.46 2.76M10.74 1.17L31.11 3.4M10.69 1.51L24.28 3.42M10.64 1.84L30.85 5.33M10.58 2.17L25.24 5.17M10.51 2.5L29.18 6.93M10.42 2.82L33.44 9.05M10.33 3.15L29.89 9.1M10.23 3.46L19.16 6.49M10.12 3.78L29.15 10.9M9.99 4.09L31.56 12.93M9.86 4.4L28.34 12.65M9.72 4.71L29.02 14.06M9.57 5.01L30.22 15.81M9.41 5.3L19.05 10.74M9.24 5.59L29.49 17.85M9.06 5.88L26.97 17.49M8.87 6.16L25.85 17.93M8.68 6.43L26.07 19.32M8.47 6.7L25.21 19.92M8.26 6.96L24 20.21M8.04 7.21L23.37 20.96M7.81 7.46L14.39 13.73M7.58 7.7L21.43 21.76M7.33 7.93L17.38 18.79M7.08 8.15L20.43 23.52M6.83 8.37L18.37 22.52M6.56 8.58L18.92 24.73M6.29 8.78L18.69 26.07M6.02 8.97L17.31 25.8M5.74 9.15L16.46 26.27M5.45 9.32L11.37 19.45M5.16 9.49L14.91 27.45M4.86 9.65L14.11 28.02M4.56 9.79L14.62 31.41M4.25 9.93L13.34 31.18M3.94 10.06L11.43 29.18M3.62 10.17L11.87 33.31M3.31 10.28L9.6 29.87M2.98 10.38L8.67 30.15M2.66 10.47L7.96 31.32M2.33 10.55L6.77 30.62M2 10.61L4.76 25.2M1.67 10.67L3.91 24.97M1.34 10.72L3.77 30.15M1.01 10.75L3.03 32.38M0.67 10.78L1.57 25.19M0.34 10.79L0.97 31.31M0 10.8L0 28.61M-0.34 10.79L-1.01 32.37M-0.67 10.78L-1.5 24.02M-1.01 10.75L-3.02 32.24M-1.34 10.72L-3.86 30.83M-1.67 10.67L-5.28 33.66M-2 10.61L-5.56 29.42M-2.33 10.55L-6.72 30.35M-2.66 10.47L-7.97 31.38M-2.98 10.38L-8.26 28.73M-3.31 10.28L-8.84 27.48M-3.62 10.17L-10.43 29.28M-3.94 10.06L-12.93 33.01M-4.25 9.93L-12 28.05M-4.56 9.79L-13.05 28.05M-4.86 9.65L-11.05 21.93M-5.16 9.49L-15.78 29.05M-5.45 9.32L-16.94 28.99M-5.74 9.15L-15.91 25.39M-6.02 8.97L-17.18 25.6M-6.29 8.78L-18.13 25.29M-6.56 8.58L-19.41 25.36M-6.83 8.37L-18.83 23.08M-7.08 8.15L-19.92 22.92M-7.33 7.93L-15.16 16.39M-7.58 7.7L-15.94 16.19M-7.81 7.46L-24.47 23.36M-8.04 7.21L-25.52 22.88M-8.26 6.96L-17.9 15.07M-8.47 6.7L-24.75 19.56M-8.68 6.43L-19.64 14.55M-8.87 6.16L-19.2 13.32M-9.06 5.88L-18.03 11.7M-9.24 5.59L-26.07 15.78M-9.41 5.3L-27.17 15.31M-9.57 5.01L-28.4 14.86M-9.72 4.71L-25.66 12.43M-9.86 4.4L-22.08 9.86M-9.99 4.09L-26.72 10.94M-10.12 3.78L-29.29 10.95M-10.23 3.46L-29.41 9.96M-10.33 3.15L-21.42 6.52M-10.42 2.82L-32.67 8.84M-10.51 2.5L-22.53 5.35M-10.58 2.17L-30.7 6.29M-10.64 1.84L-21.73 3.75M-10.69 1.51L-30.85 4.35M-10.74 1.17L-23.11 2.53M-10.77 0.84L-21.34 1.66M-10.79 0.5L-21.47 1M-10.8 0.17L-22.53 0.35M-10.8 -0.17L-30.18 -0.47M-10.79 -0.5L-31.34 -1.46M-10.77 -0.84L-28.87 -2.25M-10.74 -1.17L-28.77 -3.14M-10.69 -1.51L-34.16 -4.81M-10.64 -1.84L-21.11 -3.65M-10.58 -2.17L-22.14 -4.54M-10.51 -2.5L-24.84 -5.9M-10.42 -2.82L-22.59 -6.11M-10.33 -3.15L-33.83 -10.3M-10.23 -3.46L-20.16 -6.83M-10.12 -3.78L-29.96 -11.2M-9.99 -4.09L-19.74 -8.09M-9.86 -4.4L-32.34 -14.44M-9.72 -4.71L-28.21 -13.66M-9.57 -5.01L-26.91 -14.08M-9.41 -5.3L-18.65 -10.51M-9.24 -5.59L-22.96 -13.9M-9.06 -5.88L-20.53 -13.32M-8.87 -6.16L-15.14 -10.5M-8.68 -6.43L-18.38 -13.62M-8.47 -6.7L-17.85 -14.11M-8.26 -6.96L-21.09 -17.76M-8.04 -7.21L-15.92 -14.28M-7.81 -7.46L-21.17 -20.2M-7.58 -7.7L-15.45 -15.69M-7.33 -7.93L-15.42 -16.66M-7.08 -8.15L-17.22 -19.81M-6.83 -8.37L-13.51 -16.56M-6.56 -8.58L-13.65 -17.84M-6.29 -8.78L-16.08 -22.42M-6.02 -8.97L-12.47 -18.58M-5.74 -9.15L-13 -20.74M-5.45 -9.32L-10.8 -18.48M-5.16 -9.49L-10.23 -18.82M-4.86 -9.65L-8.95 -17.78M-4.56 -9.79L-10.79 -23.19M-4.25 -9.93L-12.61 -29.46M-3.94 -10.06L-7.82 -19.96M-3.62 -10.17L-9.6 -26.96M-3.31 -10.28L-7.64 -23.77M-2.98 -10.38L-6.74 -23.44M-2.66 -10.47L-5.26 -20.71M-2.33 -10.55L-7.43 -33.58M-2 -10.61L-3.97 -21.05M-1.67 -10.67L-2.85 -18.2M-1.34 -10.72L-3.13 -25.06M-1.01 -10.75L-1.88 -20.06M-0.67 -10.78L-1.34 -21.43M-0.34 -10.79L-0.7 -22.59"/><path id="abl" d="M0 -10.8L0 -20.11M0.34 -10.79L0.65 -20.91M0.67 -10.78L1.25 -20.07M1.01 -10.75L1.87 -19.96M1.34 -10.72L2.63 -21.06M1.67 -10.67L4 -25.51M2 -10.61L3.38 -17.87M2.33 -10.55L4.68 -21.18M2.66 -10.47L7.23 -28.45M2.98 -10.38L7.08 -24.62M3.31 -10.28L6.12 -19.03M3.62 -10.17L8.03 -22.56M3.94 -10.06L7.32 -18.7M4.25 -9.93L7.9 -18.46M4.56 -9.79L8.46 -18.18M4.86 -9.65L14.3 -28.39M5.16 -9.49L13.79 -25.39M5.45 -9.32L11.19 -19.15M5.74 -9.15L15.42 -24.6M6.02 -8.97L14.06 -20.95M6.29 -8.78L16.95 -23.63M6.56 -8.58L17.28 -22.58M6.83 -8.37L12.61 -15.46M7.08 -8.15L15 -17.26M7.33 -7.93L19.82 -21.43M7.58 -7.7L19.59 -19.9M7.81 -7.46L14.45 -13.79M8.04 -7.21L21.76 -19.51M8.26 -6.96L21.3 -17.93M8.47 -6.7L20.93 -16.54M8.68 -6.43L25.86 -19.16M8.87 -6.16L27.19 -18.86M9.06 -5.88L26.95 -17.48M9.24 -5.59L24.65 -14.92M9.41 -5.3L25.79 -14.54M9.57 -5.01L26.54 -13.89M9.72 -4.71L29.89 -14.48M9.86 -4.4L23.06 -10.29M9.99 -4.09L27.69 -11.34M10.12 -3.78L26.35 -9.85M10.23 -3.46L28.06 -9.5M10.33 -3.15L29.02 -8.83M10.42 -2.82L26.47 -7.17M10.51 -2.5L26.05 -6.19M10.58 -2.17L28.68 -5.88M10.64 -1.84L22 -3.8M10.69 -1.51L29.02 -4.09M10.74 -1.17L31.64 -3.46M10.77 -0.84L24.51 -1.91M10.79 -0.5L25.83 -1.21M10.8 -0.17L29.24 -0.45M10.8 0.17L22.54 0.35M10.79 0.5L28.03 1.31M10.77 0.84L33.08 2.58M10.74 1.17L29.02 3.17M10.69 1.51L22.66 3.19M10.64 1.84L28.78 4.97M10.58 2.17L23.55 4.83M10.51 2.5L27.23 6.47M10.42 2.82L31.2 8.45M10.33 3.15L27.88 8.49M10.23 3.46L17.88 6.06M10.12 3.78L27.2 10.17M9.99 4.09L29.44 12.06M9.86 4.4L26.44 11.8M9.72 4.71L27.07 13.11M9.57 5.01L28.19 14.75M9.41 5.3L17.77 10.02M9.24 5.59L27.52 16.66M9.06 5.88L25.16 16.32M8.87 6.16L24.12 16.73M8.68 6.43L24.32 18.02M8.47 6.7L23.52 18.58M8.26 6.96L22.39 18.85M8.04 7.21L21.81 19.55M7.81 7.46L13.42 12.81M7.58 7.7L19.99 20.3M7.33 7.93L16.22 17.53M7.08 8.15L19.06 21.94M6.83 8.37L17.14 21.01M6.56 8.58L17.65 23.07M6.29 8.78L17.44 24.32M6.02 8.97L16.15 24.07M5.74 9.15L15.36 24.51M5.45 9.32L10.6 18.15M5.16 9.49L13.91 25.61M4.86 9.65L13.17 26.14M4.56 9.79L13.64 29.31M4.25 9.93L12.45 29.09M3.94 10.06L10.66 27.23M3.62 10.17L11.07 31.08M3.31 10.28L8.96 27.87M2.98 10.38L8.09 28.13M2.66 10.47L7.42 29.22M2.33 10.55L6.32 28.57M2 10.61L4.44 23.51M1.67 10.67L3.65 23.3M1.34 10.72L3.52 28.13M1.01 10.75L2.83 30.21M0.67 10.78L1.46 23.5M0.34 10.79L0.91 29.21M0 10.8L0 26.7M-0.34 10.79L-0.94 30.2M-0.67 10.78L-1.4 22.41M-1.01 10.75L-2.81 30.08M-1.34 10.72L-3.6 28.76M-1.67 10.67L-4.92 31.4M-2 10.61L-5.18 27.45M-2.33 10.55L-6.26 28.32M-2.66 10.47L-7.44 29.28M-2.98 10.38L-7.71 26.8M-3.31 10.28L-8.24 25.64M-3.62 10.17L-9.73 27.32M-3.94 10.06L-12.06 30.79M-4.25 9.93L-11.2 26.17M-4.56 9.79L-12.17 26.17M-4.86 9.65L-10.31 20.46M-5.16 9.49L-14.73 27.1M-5.45 9.32L-15.8 27.04M-5.74 9.15L-14.85 23.68M-6.02 8.97L-16.03 23.88M-6.29 8.78L-16.92 23.59M-6.56 8.58L-18.11 23.66M-6.83 8.37L-17.57 21.54M-7.08 8.15L-18.58 21.39M-7.33 7.93L-14.14 15.29M-7.58 7.7L-14.87 15.1M-7.81 7.46L-22.83 21.79M-8.04 7.21L-23.81 21.35M-8.26 6.96L-16.7 14.06M-8.47 6.7L-23.09 18.25M-8.68 6.43L-18.32 13.57M-8.87 6.16L-17.91 12.43M-9.06 5.88L-16.82 10.91M-9.24 5.59L-24.32 14.72M-9.41 5.3L-25.35 14.29M-9.57 5.01L-26.5 13.87M-9.72 4.71L-23.94 11.59M-9.86 4.4L-20.6 9.2M-9.99 4.09L-24.92 10.21M-10.12 3.78L-27.33 10.22M-10.23 3.46L-27.44 9.29M-10.33 3.15L-19.99 6.08M-10.42 2.82L-30.48 8.25M-10.51 2.5L-21.02 5M-10.58 2.17L-28.64 5.87M-10.64 1.84L-20.27 3.5M-10.69 1.51L-28.78 4.06M-10.74 1.17L-21.56 2.36M-10.77 0.84L-19.91 1.55M-10.79 0.5L-20.03 0.94M-10.8 0.17L-21.02 0.33M-10.8 -0.17L-28.16 -0.44M-10.79 -0.5L-29.24 -1.37M-10.77 -0.84L-26.93 -2.1M-10.74 -1.17L-26.84 -2.93M-10.69 -1.51L-31.87 -4.49M-10.64 -1.84L-19.69 -3.4M-10.58 -2.17L-20.65 -4.23M-10.51 -2.5L-23.17 -5.51M-10.42 -2.82L-21.07 -5.7M-10.33 -3.15L-31.56 -9.61M-10.23 -3.46L-18.81 -6.37M-10.12 -3.78L-27.96 -10.45M-9.99 -4.09L-18.42 -7.55M-9.86 -4.4L-30.17 -13.47M-9.72 -4.71L-26.32 -12.75M-9.57 -5.01L-25.1 -13.14M-9.41 -5.3L-17.4 -9.81M-9.24 -5.59L-21.42 -12.97M-9.06 -5.88L-19.16 -12.43M-8.87 -6.16L-14.12 -9.8M-8.68 -6.43L-17.14 -12.7M-8.47 -6.7L-16.65 -13.16M-8.26 -6.96L-19.68 -16.57M-8.04 -7.21L-14.86 -13.32M-7.81 -7.46L-19.75 -18.85M-7.58 -7.7L-14.41 -14.64M-7.33 -7.93L-14.38 -15.55M-7.08 -8.15L-16.06 -18.48M-6.83 -8.37L-12.6 -15.45M-6.56 -8.58L-12.74 -16.64M-6.29 -8.78L-15 -20.92M-6.02 -8.97L-11.63 -17.34M-5.74 -9.15L-12.13 -19.35M-5.45 -9.32L-10.07 -17.24M-5.16 -9.49L-9.54 -17.56M-4.86 -9.65L-8.35 -16.59M-4.56 -9.79L-10.07 -21.64M-4.25 -9.93L-11.76 -27.48M-3.94 -10.06L-7.29 -18.62M-3.62 -10.17L-8.96 -25.15M-3.31 -10.28L-7.13 -22.18M-2.98 -10.38L-6.29 -21.87M-2.66 -10.47L-4.91 -19.32M-2.33 -10.55L-6.93 -31.33M-2 -10.61L-3.71 -19.64M-1.67 -10.67L-2.66 -16.98M-1.34 -10.72L-2.92 -23.38M-1.01 -10.75L-1.75 -18.71M-0.67 -10.78L-1.25 -20M-0.34 -10.79L-0.66 -21.07"/></defs>
<g transform="translate(749.1 104.95)">
<use href="#spk" stroke="#a0a0a0" stroke-width="0.5" fill="none"/>
<circle r="35.2" fill="#e9e9e9"/>
<circle r="35.6" fill="none" stroke="#fff" stroke-width="0.9"/>
<use href="#abl" stroke="url(#bg)" stroke-width="0.56" fill="none"/>
<circle r="11.2" fill="#fff"/>
<polygon points="-11.5,-18.1 -20.2,0 11.2,19" fill="none" stroke="#a81c2c" stroke-width="0.6"/>
</g>
<g transform="translate(749.1 205.9)">
<use href="#spk" stroke="#a0a0a0" stroke-width="0.5" fill="none"/>
<circle r="35.2" fill="#e9e9e9"/>
<circle r="35.6" fill="none" stroke="#fff" stroke-width="0.9"/>
<use href="#abl" stroke="url(#bg)" stroke-width="0.56" fill="none"/>
<circle r="11.2" fill="#fff"/>
<polygon points="-1.5,-21.1 -27.8,-1.8 -8.8,25.5" fill="none" stroke="#a81c2c" stroke-width="0.6"/>
</g>
<g transform="translate(749.1 312.7)">
<use href="#spk" stroke="#a0a0a0" stroke-width="0.5" fill="none"/>
<circle r="35.2" fill="#e9e9e9"/>
<circle r="35.6" fill="none" stroke="#fff" stroke-width="0.9"/>
<use href="#abl" stroke="url(#bg)" stroke-width="0.56" fill="none"/>
<circle r="11.2" fill="#fff"/>
<polygon points="-27.5,-3 -26.3,9.1 -19.5,11.4 17,21.3" fill="none" stroke="#a81c2c" stroke-width="0.6"/>
</g>
<g transform="translate(749.1 415.6)">
<use href="#spk" stroke="#a0a0a0" stroke-width="0.5" fill="none"/>
<circle r="35.2" fill="#e9e9e9"/>
<circle r="35.6" fill="none" stroke="#fff" stroke-width="0.9"/>
<use href="#abl" stroke="url(#bg)" stroke-width="0.56" fill="none"/>
<circle r="11.2" fill="#fff"/>
<polygon points="-28.9,3.5 13.7,-25.4 16,-25.1 28.9,8.4 18.2,21.3 -9.1,28.1 -14.4,25.8" fill="none" stroke="#a81c2c" stroke-width="0.6"/>
</g>
<g transform="translate(749.1 525.5)">
<use href="#spk" stroke="#a0a0a0" stroke-width="0.5" fill="none"/>
<circle r="35.2" fill="#e9e9e9"/>
<circle r="35.6" fill="none" stroke="#fff" stroke-width="0.9"/>
<use href="#abl" stroke="url(#bg)" stroke-width="0.56" fill="none"/>
<circle r="11.2" fill="#fff"/>
<polygon points="-28.4,-11.7 -11.4,-28.7 28.9,-14.7 27.4,12.6 18.2,23.6 -18.2,23.6 -27.4,11.9" fill="none" stroke="#a81c2c" stroke-width="0.6"/>
</g>
<g transform="translate(749.1 629)">
<use href="#spk" stroke="#a0a0a0" stroke-width="0.5" fill="none"/>
<circle r="35.2" fill="#e9e9e9"/>
<circle r="35.6" fill="none" stroke="#fff" stroke-width="0.9"/>
<use href="#abl" stroke="url(#bg)" stroke-width="0.56" fill="none"/>
<circle r="11.2" fill="#fff"/>
<polygon points="-7.6,-31.9 27.4,-16.7 31.9,9.1 13.7,29.3 -24.3,21.3 -32.7,-4.3" fill="none" stroke="#a81c2c" stroke-width="0.6"/>
</g>
<g transform="translate(912.2 104.3)">
<use href="#spk" stroke="#7e7e7e" stroke-width="0.5" fill="none"/>
<circle r="36" fill="#fff"/>
<circle r="34.6" fill="#ededed"/>
<circle r="35.5" fill="none" stroke="#777" stroke-width="0.35"/>
<use href="#ab" stroke="#e2e2e2" stroke-width="0.3" fill="none" opacity="0.6"/>
<path d="M-10.33 -3.15L-33.83 -10.3M-10.23 -3.46L-20.16 -6.83M-10.12 -3.78L-29.96 -11.2M-9.99 -4.09L-19.74 -8.09M-9.86 -4.4L-32.34 -14.44M-9.72 -4.71L-28.21 -13.66M-9.57 -5.01L-26.91 -14.08M-9.41 -5.3L-18.65 -10.51M-9.24 -5.59L-22.96 -13.9M-9.06 -5.88L-20.53 -13.32M-8.87 -6.16L-15.14 -10.5M-8.68 -6.43L-18.38 -13.62M-8.47 -6.7L-17.85 -14.11M-8.26 -6.96L-21.09 -17.76M-8.04 -7.21L-15.92 -14.28M-7.81 -7.46L-21.17 -20.2M-7.58 -7.7L-15.45 -15.69M-7.33 -7.93L-15.42 -16.66M-7.08 -8.15L-17.22 -19.81M-6.83 -8.37L-13.51 -16.56M-6.56 -8.58L-13.65 -17.84M-6.29 -8.78L-16.08 -22.42M-6.02 -8.97L-12.47 -18.58M-5.74 -9.15L-13 -20.74M-5.45 -9.32L-10.8 -18.48M-5.16 -9.49L-10.23 -18.82M-4.86 -9.65L-8.95 -17.78M-4.56 -9.79L-10.79 -23.19M-4.25 -9.93L-12.61 -29.46M-3.94 -10.06L-7.82 -19.96M-3.62 -10.17L-9.6 -26.96M-3.31 -10.28L-7.64 -23.77M-2.98 -10.38L-6.74 -23.44M-2.66 -10.47L-5.26 -20.71M-2.33 -10.55L-7.43 -33.58M-2 -10.61L-3.97 -21.05M-1.67 -10.67L-2.85 -18.2M-1.34 -10.72L-3.13 -25.06M-1.01 -10.75L-1.88 -20.06M-0.67 -10.78L-1.34 -21.43M-0.34 -10.79L-0.7 -22.59M0 -10.8L0 -21.56M0.34 -10.79L0.7 -22.42M0.67 -10.78L1.34 -21.52M1.01 -10.75L2 -21.4M1.34 -10.72L2.82 -22.58M1.67 -10.67L4.29 -27.34M2 -10.61L3.62 -19.16M2.33 -10.55L5.02 -22.7M2.66 -10.47L7.75 -30.49M2.98 -10.38L7.59 -26.39M3.31 -10.28L6.56 -20.39M3.62 -10.17L8.61 -24.18M3.94 -10.06L7.85 -20.04M4.25 -9.93L8.47 -19.79M4.56 -9.79L9.07 -19.49M4.86 -9.65L15.32 -30.43" stroke="url(#bg)" stroke-width="0.56" fill="none"/>
<circle r="11.2" fill="#fff"/>
</g>
<g transform="translate(912.2 206.3)">
<use href="#spk" stroke="#7e7e7e" stroke-width="0.5" fill="none"/>
<circle r="36" fill="#fff"/>
<circle r="34.6" fill="#ededed"/>
<circle r="35.5" fill="none" stroke="#777" stroke-width="0.35"/>
<use href="#ab" stroke="#e2e2e2" stroke-width="0.3" fill="none" opacity="0.6"/>
<path d="M5.74 -9.15L16.53 -26.37M6.02 -8.97L15.07 -22.46M6.29 -8.78L18.16 -25.33M6.56 -8.58L18.52 -24.2M6.83 -8.37L13.52 -16.57M7.08 -8.15L16.08 -18.5M7.33 -7.93L21.25 -22.97" stroke="url(#bg)" stroke-width="0.56" fill="none"/>
<circle r="11.2" fill="#fff"/>
</g>
<g transform="translate(912.2 313.5)">
<use href="#spk" stroke="#7e7e7e" stroke-width="0.5" fill="none"/>
<circle r="36" fill="#fff"/>
<circle r="34.6" fill="#ededed"/>
<circle r="35.5" fill="none" stroke="#777" stroke-width="0.35"/>
<use href="#ab" stroke="#e2e2e2" stroke-width="0.3" fill="none" opacity="0.6"/>
<path d="M8.04 -7.21L23.32 -20.91M8.26 -6.96L22.83 -19.22M8.47 -6.7L22.44 -17.73M8.68 -6.43L27.72 -20.53M8.87 -6.16L29.14 -20.22M9.06 -5.88L28.88 -18.73M9.24 -5.59L26.42 -15.99M9.41 -5.3L27.65 -15.58M9.57 -5.01L28.45 -14.89M9.72 -4.71L32.04 -15.52M9.86 -4.4L24.71 -11.03M9.99 -4.09L29.68 -12.16M10.12 -3.78L28.24 -10.56M10.23 -3.46L30.07 -10.19M10.33 -3.15L31.11 -9.47M10.42 -2.82L28.38 -7.68M10.51 -2.5L27.92 -6.63M10.58 -2.17L30.74 -6.3M10.64 -1.84L23.58 -4.07M10.69 -1.51L31.1 -4.38M10.74 -1.17L33.92 -3.71M10.77 -0.84L26.27 -2.05M10.79 -0.5L27.68 -1.29M10.8 -0.17L31.34 -0.49" stroke="url(#bg)" stroke-width="0.56" fill="none"/>
<circle r="11.2" fill="#fff"/>
</g>
<g transform="translate(912.2 415.7)">
<use href="#spk" stroke="#7e7e7e" stroke-width="0.5" fill="none"/>
<circle r="36" fill="#fff"/>
<circle r="34.6" fill="#ededed"/>
<circle r="35.5" fill="none" stroke="#777" stroke-width="0.35"/>
<use href="#ab" stroke="#e2e2e2" stroke-width="0.3" fill="none" opacity="0.6"/>
<path d="M10.77 0.84L35.46 2.76M10.74 1.17L31.11 3.4M10.69 1.51L24.28 3.42M10.64 1.84L30.85 5.33M10.58 2.17L25.24 5.17M10.51 2.5L29.18 6.93M10.42 2.82L33.44 9.05M10.33 3.15L29.89 9.1M10.23 3.46L19.16 6.49M10.12 3.78L29.15 10.9M9.99 4.09L31.56 12.93M9.86 4.4L28.34 12.65M9.72 4.71L29.02 14.06M9.57 5.01L30.22 15.81M9.41 5.3L19.05 10.74M9.24 5.59L29.49 17.85M9.06 5.88L26.97 17.49M8.87 6.16L25.85 17.93M8.68 6.43L26.07 19.32M8.47 6.7L25.21 19.92M8.26 6.96L24 20.21M8.04 7.21L23.37 20.96M7.81 7.46L14.39 13.73M7.58 7.7L21.43 21.76M7.33 7.93L17.38 18.79M7.08 8.15L20.43 23.52M6.83 8.37L18.37 22.52M6.56 8.58L18.92 24.73M6.29 8.78L18.69 26.07M6.02 8.97L17.31 25.8M5.74 9.15L16.46 26.27M5.45 9.32L11.37 19.45M5.16 9.49L14.91 27.45M4.86 9.65L14.11 28.02M4.56 9.79L14.62 31.41M4.25 9.93L13.34 31.18M3.94 10.06L11.43 29.18M3.62 10.17L11.87 33.31M3.31 10.28L9.6 29.87M2.98 10.38L8.67 30.15M2.66 10.47L7.96 31.32M2.33 10.55L6.77 30.62M2 10.61L4.76 25.2M1.67 10.67L3.91 24.97M1.34 10.72L3.77 30.15M1.01 10.75L3.03 32.38M0.67 10.78L1.57 25.19M0.34 10.79L0.97 31.31M0 10.8L0 28.61M-0.34 10.79L-1.01 32.37M-0.67 10.78L-1.5 24.02M-1.01 10.75L-3.02 32.24M-1.34 10.72L-3.86 30.83M-1.67 10.67L-5.28 33.66M-2 10.61L-5.56 29.42M-2.33 10.55L-6.72 30.35M-2.66 10.47L-7.97 31.38M-2.98 10.38L-8.26 28.73M-3.31 10.28L-8.84 27.48M-3.62 10.17L-10.43 29.28M-3.94 10.06L-12.93 33.01M-4.25 9.93L-12 28.05" stroke="url(#bg)" stroke-width="0.56" fill="none"/>
<circle r="11.2" fill="#fff"/>
</g>
<g transform="translate(912.2 525.85)">
<use href="#spk" stroke="#7e7e7e" stroke-width="0.5" fill="none"/>
<circle r="36" fill="#fff"/>
<circle r="34.6" fill="#ededed"/>
<circle r="35.5" fill="none" stroke="#777" stroke-width="0.35"/>
<use href="#ab" stroke="#e2e2e2" stroke-width="0.3" fill="none" opacity="0.6"/>
<path d="M-4.86 9.65L-11.05 21.93M-5.16 9.49L-15.78 29.05M-5.45 9.32L-16.94 28.99M-5.74 9.15L-15.91 25.39M-6.02 8.97L-17.18 25.6M-6.29 8.78L-18.13 25.29M-6.56 8.58L-19.41 25.36M-6.83 8.37L-18.83 23.08M-7.08 8.15L-19.92 22.92M-7.33 7.93L-15.16 16.39M-7.58 7.7L-15.94 16.19M-7.81 7.46L-24.47 23.36M-8.04 7.21L-25.52 22.88M-8.26 6.96L-17.9 15.07M-8.47 6.7L-24.75 19.56" stroke="url(#bg)" stroke-width="0.56" fill="none"/>
<circle r="11.2" fill="#fff"/>
</g>
<g transform="translate(912.2 627.8)">
<use href="#spk" stroke="#7e7e7e" stroke-width="0.5" fill="none"/>
<circle r="36" fill="#fff"/>
<circle r="34.6" fill="#ededed"/>
<circle r="35.5" fill="none" stroke="#777" stroke-width="0.35"/>
<use href="#ab" stroke="#e2e2e2" stroke-width="0.3" fill="none" opacity="0.6"/>
<path d="M-9.41 5.3L-27.17 15.31M-9.57 5.01L-28.4 14.86M-9.72 4.71L-25.66 12.43M-9.86 4.4L-22.08 9.86M-9.99 4.09L-26.72 10.94M-10.12 3.78L-29.29 10.95M-10.23 3.46L-29.41 9.96M-10.33 3.15L-21.42 6.52M-10.42 2.82L-32.67 8.84M-10.51 2.5L-22.53 5.35M-10.58 2.17L-30.7 6.29M-10.64 1.84L-21.73 3.75M-10.69 1.51L-30.85 4.35M-10.74 1.17L-23.11 2.53M-10.77 0.84L-21.34 1.66M-10.79 0.5L-21.47 1M-10.8 0.17L-22.53 0.35M-10.8 -0.17L-30.18 -0.47M-10.79 -0.5L-31.34 -1.46M-10.77 -0.84L-28.87 -2.25M-10.74 -1.17L-28.77 -3.14M-10.69 -1.51L-34.16 -4.81" stroke="url(#bg)" stroke-width="0.56" fill="none"/>
<circle r="11.2" fill="#fff"/>
</g>
<g font-size="4.8" fill="#1a1a1a" text-anchor="middle" opacity="0.99" stroke="#1a1a1a" stroke-width="0.08">
<text x="749" y="41.6">Multi-field</text><text x="749" y="47.6">Connections</text><text x="912.6" y="41.6">Categories</text>
</g>
<g font-size="3.9" fill="#1a1a1a" text-anchor="middle" font-weight="700" opacity="0.99">
<text x="749" y="153.5">1965</text>
<text x="749" y="257.5">1990</text>
<text x="749" y="363.5">1995</text>
<text x="749" y="468.5">2006</text>
<text x="749" y="577.5">2010</text>
<text x="749" y="681.5">2017</text>
</g>
<g font-size="4.1" fill="#1a1a1a" text-anchor="middle" opacity="0.99" stroke="#1a1a1a" stroke-width="0.12">
<text x="912.3" y="153.5">Technology</text>
<text x="912.3" y="257.5">Greenhouse Gases</text>
<text x="912.3" y="363.5">Enviromental Measures</text>
<text x="912.3" y="577.5">Impact on Earth</text>
<text x="912.3" y="681.5">Literature and Thinkers</text>
<text x="912.3" y="465.3">Films:</text><text x="912.3" y="470.6">Movies and Documentary</text>
</g>
</svg></body></html>
